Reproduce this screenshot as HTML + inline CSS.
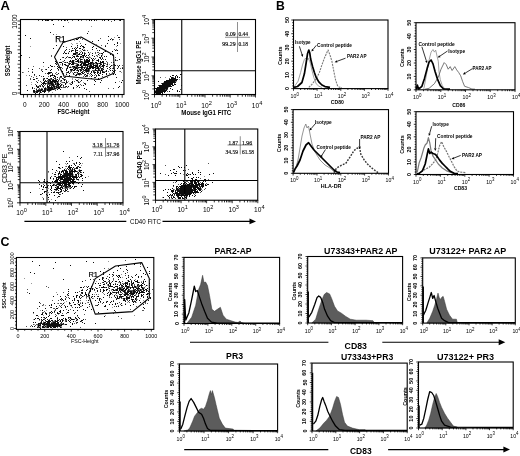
<!DOCTYPE html>
<html><head><meta charset="utf-8"><style>
html,body{margin:0;padding:0;background:#fff;width:520px;height:456px;overflow:hidden}
svg{display:block;will-change:transform}
</style></head><body>
<svg width="520" height="456" viewBox="0 0 520 456">
<defs><filter id="bl" x="-5%" y="-5%" width="110%" height="110%"><feGaussianBlur stdDeviation="0.3"/></filter></defs>
<rect width="520" height="456" fill="#fff"/>
<text x="0.6" y="9.6" font-size="13" font-family="Liberation Sans, sans-serif" font-weight="bold" text-anchor="start" fill="#000">A</text>
<text x="276" y="10" font-size="12.2" font-family="Liberation Sans, sans-serif" font-weight="bold" text-anchor="start" fill="#000">B</text>
<text x="0.6" y="246.3" font-size="12.4" font-family="Liberation Sans, sans-serif" font-weight="bold" text-anchor="start" fill="#000">C</text>
<path filter="url(#bl)" transform="translate(0 0.5)" d="M32 69h1M31 82h1M85 66h1M55 73h1M94 67h1M77 46h1M77 50h1M75 67h1M58 86h1M41 89h1M60 87h1M95 68h1M49 84h1M101 63h1M82 56h1M102 65h1M102 55h1M46 81h1M99 68h1M96 44h1M116 60h1M86 61h1M78 79h1M55 87h1M87 68h1M57 87h1M49 80h1M80 54h1M71 43h1M39 86h1M69 83h1M49 82h1M66 62h1M48 87h1M87 65h1M95 64h1M83 67h1M49 85h1M72 72h1M80 60h1M42 90h1M39 91h1M43 79h1M79 41h1M77 63h1M90 62h1M100 53h1M84 67h1M86 64h1M38 89h1M72 79h1M43 91h1M88 78h1M60 77h1M44 91h1M38 91h1M100 66h1M58 82h1M61 81h1M95 72h1M79 65h1M89 63h1M45 88h1M61 82h1M44 79h1M69 57h1M73 67h1M52 88h1M86 20h1M101 70h1M85 67h1M78 67h1M53 86h1M87 74h1M36 88h1M52 87h1M52 85h1M74 74h1M47 81h1M83 82h1M72 44h1M94 65h1M100 68h1M73 64h1M72 50h1M90 57h1M93 65h1M48 92h1M80 70h1M91 63h1M78 68h1M36 91h1M89 68h1M53 87h1M90 75h1M78 82h1M81 57h1M42 83h1M93 62h1M79 62h1M68 22h1M112 72h1M102 58h1M37 92h1M106 64h1M55 88h1M93 67h1M89 71h1M68 81h1M53 85h1M86 70h1M81 59h1M80 58h1M56 87h1M65 20h1M56 86h1M99 55h1M56 88h1M102 72h1M105 59h1M113 65h1M85 61h1M79 75h1M89 64h1M60 64h1M23 72h1M56 34h1M93 71h1M92 60h1M82 65h1M31 84h1M89 76h1M92 67h1M57 86h1M56 63h1M72 67h1M76 53h1M43 66h1M60 81h1M67 67h1M85 62h1M35 92h1M86 72h1M77 54h1M76 54h1M42 88h1M88 72h1M53 82h1M100 70h1M50 88h1M63 85h1M72 48h1M60 80h1M79 61h1M120 43h1M80 73h1M34 92h1M78 73h1M40 91h1M76 87h1M48 88h1M70 71h1M52 92h1M57 88h1M46 89h1M89 53h1M97 52h1M109 64h1M48 84h1M96 64h1M34 91h1M90 67h1M103 68h1M66 73h1M86 62h1M83 58h1M119 81h1M74 40h1M71 71h1M42 69h1M39 92h1M82 63h1M84 49h1M46 90h1M76 72h1M56 85h1M41 82h1M98 71h1M62 87h1M78 59h1M74 60h1M59 77h1M63 76h1M89 56h1M47 86h1M102 74h1M53 80h1M70 70h1M79 58h1M74 68h1M69 62h1M83 48h1M86 71h1M95 63h1M56 79h1M97 55h1M80 50h1M79 51h1M62 84h1M107 65h1M51 87h1M89 65h1M75 66h1M72 78h1M72 70h1M30 46h1M116 50h1M88 65h1M68 64h1M47 89h1M110 74h1M95 65h1M51 90h1M26 75h1M87 59h1M49 86h1M104 71h1M69 63h1M50 73h1M71 61h1M42 20h1M52 86h1M74 62h1M119 71h1M103 66h1M55 89h1M112 40h1M70 83h1M54 85h1M62 78h1M96 62h1M77 43h1M104 51h1M71 58h1M103 62h1M97 72h1M66 83h1M88 57h1M72 64h1M55 86h1M96 67h1M54 75h1M76 52h1M30 78h1M52 82h1M99 65h1M112 65h1M62 61h1M71 70h1M32 71h1M77 81h1M71 67h1M91 26h1M89 74h1M76 64h1M96 66h1M75 65h1M85 69h1M121 72h1M79 73h1M76 43h1M56 82h1M59 86h1M70 66h1M82 67h1M73 60h1M98 66h1M82 53h1M54 84h1M113 66h1M57 79h1M90 52h1M85 50h1M57 77h1M68 52h1M91 65h1M54 81h1M47 85h1M116 46h1M114 37h1M58 20h1M37 78h1M77 69h1M102 66h1" stroke="#999" stroke-width="1.0" fill="none"/>
<path filter="url(#bl)" transform="translate(0 0.5)" d="M57 74h1M93 66h1M97 70h1M79 69h1M52 89h1M90 68h1M45 84h1M112 72h1M46 89h1M49 88h1M84 75h1M82 69h1M85 53h1M112 68h1M78 70h1M45 89h1M41 70h1M87 70h1M96 76h1M41 76h1M74 81h1M119 39h1M51 79h1M61 67h1M101 66h1M63 82h1M53 88h1M98 74h1M55 88h1M28 71h1M60 81h1M39 91h1M47 80h1M99 69h1M105 45h1M65 87h1M75 61h1M95 74h1M80 81h1M51 55h1M78 62h1M58 85h1M33 92h1M96 65h1M96 63h1M38 20h1M55 83h1M55 82h1M96 20h1M89 91h1M47 88h1M63 87h1M84 65h1M68 57h1M59 86h1M77 69h1M34 88h1M52 87h1M87 73h1M79 67h1M56 87h1M102 54h1M40 90h1M56 84h1M67 65h1M117 60h1M115 57h1M66 80h1M60 77h1M88 70h1M45 87h1M83 62h1M77 60h1M50 82h1M77 65h1M42 71h1M103 64h1M70 70h1M48 76h1M76 70h1M71 64h1M80 74h1M76 50h1M63 74h1M50 79h1M40 89h1M37 78h1M48 87h1M47 83h1M91 67h1M102 69h1M44 89h1M32 88h1M75 51h1M80 60h1M58 87h1M50 84h1M49 84h1M82 57h1M107 66h1M114 49h1M68 86h1M51 56h1M109 69h1M48 91h1M81 68h1M73 67h1M72 20h1M91 66h1M78 65h1M69 63h1M80 52h1M42 90h1M44 85h1M68 66h1M86 67h1M38 80h1M88 71h1M81 59h1M101 45h1M86 64h1M55 79h1M45 88h1M58 70h1M85 63h1M64 80h1M53 77h1M71 58h1M48 88h1M54 89h1M35 84h1M96 62h1M64 51h1M96 70h1M108 71h1M84 67h1M75 79h1M112 55h1M88 58h1M117 35h1M85 83h1M97 52h1M66 82h1M86 76h1M81 66h1M57 83h1M51 85h1M85 65h1M41 88h1M74 56h1M39 68h1M62 68h1M48 74h1M22 72h1M62 82h1M82 71h1M114 70h1M93 63h1M102 57h1M81 72h1M47 89h1M105 71h1M82 63h1M48 79h1M49 86h1M48 81h1M94 75h1M84 52h1M92 63h1M103 61h1M104 63h1M56 85h1M80 84h1M80 71h1M89 57h1M81 51h1M57 85h1M59 79h1M36 76h1M64 87h1M49 82h1M85 67h1M87 69h1M74 63h1M98 63h1M89 61h1M81 62h1M95 52h1M85 66h1M26 85h1M46 88h1M95 66h1M88 31h1M102 20h1M98 52h1M53 87h1M93 72h1M31 76h1M92 61h1M76 61h1M65 76h1M90 64h1M51 84h1M93 60h1M80 64h1M48 89h1M46 83h1M77 53h1M79 82h1M63 79h1M58 20h1M107 62h1M84 74h1M63 86h1M50 75h1M73 50h1M105 63h1M100 38h1M52 84h1M67 56h1M71 84h1M51 75h1M85 71h1M95 69h1M88 66h1M85 60h1M29 75h1M99 73h1M92 64h1M56 80h1M103 59h1M97 72h1M52 73h1M103 72h1M56 81h1M56 74h1M42 86h1M74 54h1M53 84h1M76 85h1M77 73h1M82 68h1M86 62h1M95 53h1M51 89h1M37 86h1M62 64h1M63 73h1M71 50h1M97 56h1M95 58h1M45 69h1M111 38h1M54 87h1M117 65h1M65 20h1M100 65h1M30 78h1M74 69h1M116 49h1M65 79h1M88 64h1M111 62h1M49 81h1M60 86h1M57 86h1M51 87h1M99 53h1M114 64h1M86 57h1M103 71h1M55 77h1M87 76h1M48 84h1M75 54h1M72 81h1M65 77h1M76 55h1M64 62h1M76 63h1M62 65h1M59 67h1M53 75h1M71 61h1M96 60h1M72 55h1M41 89h1M64 60h1M58 80h1M93 70h1M77 58h1M82 59h1M52 80h1M84 72h1M102 76h1M66 68h1M82 39h1M54 86h1M44 88h1M108 75h1M56 72h1M84 63h1M40 81h1M108 88h1M54 85h1M61 77h1M75 58h1M81 85h1M106 61h1M52 79h1M54 66h1M120 68h1M113 39h1M94 63h1M59 78h1M81 20h1M83 69h1M48 90h1M81 69h1M89 69h1M52 88h1M77 45h1M74 67h1M73 39h1M62 57h1M88 60h1M43 90h1M38 89h1M94 70h1M45 80h1M100 70h1M103 66h1M65 50h1M113 64h1M42 91h1M87 68h1M41 92h1M83 71h1M113 67h1M54 78h1M103 67h1M50 85h1M76 68h1M59 84h1M65 58h1M71 62h1M111 65h1M96 66h1M83 67h1M107 77h1M60 83h1M70 72h1M43 87h1M49 79h1M79 54h1M95 65h1M114 65h1M73 73h1M47 82h1M81 54h1M30 79h1M80 43h1M70 84h1M95 68h1M87 50h1M54 88h1M68 63h1M39 88h1M92 70h1M118 67h1M77 52h1M87 61h1M117 43h1M113 88h1M55 73h1M39 89h1M45 73h1M49 91h1M82 61h1M90 65h1M100 64h1M49 83h1M45 81h1M81 63h1M91 64h1M94 59h1M87 65h1M36 91h1M90 62h1M40 91h1M97 50h1M88 73h1M63 78h1M50 81h1M42 89h1M46 81h1M122 67h1M53 34h1M61 85h1M58 81h1M37 91h1M33 66h1M122 65h1M96 55h1M67 87h1M86 72h1M33 77h1M101 62h1M56 83h1M47 84h1M66 72h1M99 68h1M91 62h1M80 38h1M75 63h1M53 80h1M41 69h1M81 65h1M107 63h1M73 74h1M75 47h1M77 67h1M115 70h1M75 72h1M83 76h1M68 53h1M55 86h1M50 87h1M80 62h1M71 71h1M50 78h1M97 65h1M109 73h1M87 60h1M66 47h1M43 78h1M50 89h1M63 61h1M48 80h1M39 85h1M65 86h1M44 82h1M97 63h1M102 71h1M89 63h1M57 84h1M89 65h1M120 71h1M81 74h1M78 81h1M36 90h1M55 84h1M35 91h1M69 49h1M57 79h1M75 52h1M77 56h1M77 74h1M28 68h1M75 67h1M53 83h1M55 90h1M119 20h1M83 70h1M97 66h1M41 82h1M68 72h1M56 88h1M80 61h1M88 63h1M94 71h1M34 75h1M40 85h1M67 82h1M51 20h1M52 81h1M36 81h1M71 82h1M76 53h1M29 57h1M46 78h1M65 65h1M86 69h1M77 80h1M63 85h1M46 20h1M89 70h1M58 86h1M115 59h1M76 66h1M111 21h1" stroke="#555" stroke-width="1.0" fill="none"/>
<path filter="url(#bl)" transform="translate(0 0.5)" d="M51 89h1M93 67h1M72 63h1M80 59h1M48 20h1M51 66h1M109 67h1M106 66h1M113 68h1M69 67h1M81 59h1M66 82h1M74 53h1M54 86h1M56 87h1M71 69h1M51 78h1M71 64h1M81 56h1M64 20h1M43 80h1M41 89h1M63 85h1M80 62h1M63 40h1M99 65h1M92 68h1M99 57h1M50 72h1M80 70h1M90 65h1M84 70h1M61 20h1M50 32h1M93 68h1M98 78h1M66 53h1M86 61h1M92 67h1M77 66h1M88 70h1M91 62h1M40 91h1M102 58h1M51 87h1M52 85h1M70 63h1M91 65h1M37 87h1M119 37h1M36 92h1M86 62h1M86 71h1M121 82h1M78 67h1M39 75h1M118 37h1M98 54h1M57 83h1M62 78h1M110 66h1M97 71h1M87 75h1M93 63h1M83 57h1M89 66h1M101 56h1M95 77h1M48 81h1M44 83h1M79 53h1M88 60h1M86 70h1M76 67h1M78 20h1M78 61h1M87 59h1M46 69h1M84 83h1M52 88h1M44 90h1M77 86h1M90 66h1M34 92h1M85 64h1M94 80h1M55 78h1M47 78h1M119 65h1M92 59h1M66 69h1M65 64h1M87 65h1M51 72h1M95 69h1M51 82h1M73 62h1M72 64h1M77 65h1M56 81h1M36 78h1M52 75h1M75 75h1M49 79h1M101 59h1M57 87h1M66 49h1M54 76h1M53 77h1M82 49h1M90 64h1M103 63h1M45 89h1M57 85h1M83 56h1M51 86h1M79 74h1M92 47h1M96 75h1M88 71h1M69 63h1M48 67h1M50 70h1M90 67h1M71 51h1M41 90h1M96 68h1M33 90h1M77 70h1M92 53h1M104 72h1M78 56h1M39 90h1M64 52h1M89 68h1M47 90h1M103 67h1M88 64h1M65 83h1M48 83h1M32 88h1M48 82h1M88 55h1M98 40h1M58 87h1M83 46h1M89 20h1M42 89h1M82 73h1M56 86h1M85 65h1M52 82h1M95 65h1M51 88h1M44 89h1M92 49h1M67 62h1M82 67h1M105 51h1M61 76h1M48 87h1M37 92h1M89 63h1M86 59h1M86 69h1M54 88h1M38 91h1M21 55h1M49 88h1M59 88h1M37 91h1M91 20h1M43 84h1M44 78h1M104 20h1M87 71h1M122 68h1M84 64h1M96 65h1M47 85h1M64 77h1M90 63h1M49 87h1M34 91h1M86 65h1M67 72h1M77 47h1M79 58h1M37 82h1M102 65h1M97 66h1M55 82h1M115 60h1M82 66h1M96 70h1M33 91h1M50 88h1M67 66h1M87 61h1M47 86h1M88 58h1M57 89h1M76 48h1M102 72h1M75 51h1M83 55h1M52 80h1M99 70h1M60 67h1M81 67h1M94 84h1M32 72h1M49 83h1M85 69h1M25 35h1M63 46h1M55 63h1M36 85h1M82 52h1M66 57h1M88 52h1M45 80h1M73 87h1M100 57h1M86 68h1M79 67h1M34 79h1M83 63h1M103 62h1M54 81h1M44 88h1M78 82h1M46 81h1M78 54h1M75 49h1M93 66h1M62 64h1M58 83h1M64 80h1M85 74h1M56 64h1M43 62h1M116 77h1M57 81h1M67 68h1M45 20h1M57 77h1M61 80h1M101 64h1M49 89h1M82 55h1M55 61h1M87 66h1M68 86h1M42 85h1M51 75h1M67 20h1M100 58h1M51 81h1M50 83h1M50 81h1M118 87h1M44 81h1M94 20h1M84 53h1M52 66h1M51 84h1M71 46h1M101 55h1M103 52h1M43 79h1M72 62h1M77 68h1M98 68h1M103 65h1M73 63h1M65 62h1M43 91h1M89 54h1M48 89h1M58 85h1M84 88h1M70 67h1M98 69h1M99 50h1M112 51h1M58 73h1M70 40h1M43 82h1M117 43h1M43 86h1M115 65h1M76 61h1M79 73h1M64 82h1M69 73h1M115 82h1M106 56h1M55 81h1M49 85h1M73 60h1M98 74h1M50 75h1M117 53h1M102 53h1M81 70h1M80 69h1M52 83h1M82 72h1M68 71h1M48 88h1M91 63h1M60 59h1M76 39h1M55 83h1M84 67h1M87 62h1M69 61h1M47 89h1M77 45h1M72 57h1M117 68h1M71 70h1M78 85h1M83 65h1M70 69h1M102 68h1M68 53h1M81 63h1M74 67h1M32 69h1M84 50h1M91 71h1M96 63h1M78 71h1M102 70h1M43 83h1M53 86h1M90 73h1M76 65h1M85 62h1M92 75h1M74 72h1M86 60h1M80 46h1M84 65h1M70 61h1M88 69h1M76 68h1M101 53h1M96 66h1M42 20h1M90 68h1M113 74h1M94 56h1M49 72h1M99 63h1M74 66h1M80 64h1M58 84h1M73 68h1M77 60h1M39 93h1M87 57h1M82 53h1M97 68h1M57 84h1M79 87h1M108 36h1M94 77h1M89 67h1M77 72h1M80 61h1M50 87h1M44 91h1M53 81h1M87 60h1M85 70h1M89 60h1M76 52h1M55 88h1M88 63h1M102 71h1M57 79h1M50 65h1M58 86h1M69 64h1M91 76h1M75 54h1M92 41h1M84 55h1M50 76h1M53 85h1M74 70h1M48 73h1M60 86h1M36 89h1M106 70h1M101 70h1M96 62h1M43 76h1M30 38h1M44 92h1M108 40h1M119 86h1M75 68h1M110 68h1M49 73h1M97 67h1M78 59h1M93 64h1M95 62h1M65 53h1M90 62h1M102 74h1M74 57h1M75 67h1M66 70h1M85 63h1M95 67h1M110 39h1M60 76h1M55 76h1M47 87h1M76 56h1M35 93h1M98 59h1M61 87h1M77 56h1M80 65h1M53 84h1M84 72h1M93 71h1M92 60h1M77 52h1M52 87h1M59 62h1M34 74h1M94 73h1M45 83h1M84 59h1M78 65h1M78 70h1M45 88h1M54 80h1M85 76h1M68 72h1M56 62h1M78 64h1M114 20h1M117 50h1M49 90h1M52 81h1M50 90h1M53 24h1M54 75h1M50 89h1M99 75h1M95 70h1M87 33h1M73 54h1M103 61h1M100 64h1M97 65h1M86 89h1M73 61h1M38 87h1M78 60h1M74 69h1M32 87h1M77 80h1M94 65h1M75 59h1M72 66h1M42 91h1M97 63h1M85 61h1M86 55h1M88 62h1M88 61h1M60 89h1M53 79h1M58 80h1M59 84h1M103 69h1M74 54h1M73 56h1M106 74h1M34 90h1M91 66h1M108 20h1M72 60h1M101 69h1M51 83h1M72 50h1M70 60h1M83 47h1M91 58h1M106 73h1M85 44h1M87 68h1M110 70h1M47 20h1M69 75h1M73 88h1M36 91h1M84 54h1M53 89h1M100 61h1M45 90h1M107 43h1M69 57h1M81 80h1M112 39h1M100 73h1M74 56h1M82 62h1M69 51h1M62 63h1M76 74h1M40 92h1M78 73h1M94 72h1M55 84h1M48 79h1M108 75h1M97 73h1M52 84h1M44 82h1M66 86h1M37 90h1M92 62h1M64 64h1M60 85h1M58 88h1M64 79h1M100 71h1M115 74h1M98 72h1M62 71h1M36 86h1M87 73h1M42 71h1M56 80h1M101 62h1M100 72h1M80 73h1M93 58h1M98 75h1M63 53h1M97 72h1M81 54h1M114 44h1M99 66h1M84 61h1M41 84h1M87 64h1M68 65h1M57 68h1M104 56h1M105 46h1M76 75h1M82 46h1M84 60h1M60 62h1M81 61h1M95 81h1M58 67h1M55 80h1M100 62h1M72 83h1M84 62h1M92 55h1M48 86h1M105 59h1M49 80h1M104 65h1M107 64h1M38 90h1M71 84h1M63 26h1M66 65h1M87 67h1M57 82h1M72 81h1M59 87h1M61 84h1M65 50h1M100 82h1M77 39h1M77 64h1M73 53h1M112 70h1M101 80h1M77 50h1M48 72h1M107 68h1M83 73h1M50 80h1M67 67h1M33 79h1M73 64h1M113 71h1M117 42h1M110 54h1M72 61h1M102 62h1M96 48h1M93 65h1M91 74h1M106 71h1M76 80h1M122 80h1M54 82h1M52 20h1M91 78h1M98 60h1M83 64h1M84 47h1M102 66h1M80 57h1M81 66h1M111 65h1M74 48h1M81 68h1M80 48h1M98 67h1M87 80h1M80 56h1M83 85h1M78 38h1M88 68h1M86 64h1M70 57h1M89 59h1M100 67h1M57 51h1M93 46h1M95 72h1M91 72h1M63 57h1M65 84h1M85 84h1M42 83h1M77 55h1M53 80h1M54 87h1M79 54h1M80 67h1M56 45h1M103 66h1M73 70h1M89 61h1M118 66h1M52 74h1M66 81h1M73 73h1M95 66h1M83 50h1M45 91h1M48 90h1M40 90h1M119 59h1M77 61h1M72 48h1M52 89h1M113 62h1M40 86h1M97 60h1M98 70h1M101 68h1M92 66h1M86 75h1M81 72h1M117 45h1M84 63h1M72 69h1M81 64h1M81 45h1M78 74h1M97 64h1M47 73h1M53 48h1M38 86h1M103 64h1M58 69h1M72 82h1M73 66h1M27 90h1M98 61h1M76 59h1M75 53h1M50 82h1M56 37h1M84 68h1M83 69h1M120 20h1M75 69h1M79 48h1M61 62h1M66 74h1M94 67h1M85 56h1M75 50h1M114 71h1M115 50h1M100 63h1M103 72h1M102 61h1M78 62h1M57 66h1M64 60h1M91 67h1M51 69h1M87 70h1" stroke="#111" stroke-width="1.0" fill="none"/>
<rect x="20.5" y="19.5" width="103.5" height="75.0" fill="none" stroke="#000" stroke-width="1.1"/>
<path d="M20.5 93.0L17.5 93.0M20.5 89.4L18.1 89.4M20.5 85.8L18.1 85.8M20.5 82.2L18.1 82.2M20.5 78.6L17.5 78.6M20.5 75.0L18.1 75.0M20.5 71.4L18.1 71.4M20.5 67.8L18.1 67.8M20.5 64.2L17.5 64.2M20.5 60.6L18.1 60.6M20.5 57.0L18.1 57.0M20.5 53.4L18.1 53.4M20.5 49.8L17.5 49.8M20.5 46.2L18.1 46.2M20.5 42.6L18.1 42.6M20.5 39.0L18.1 39.0M20.5 35.4L17.5 35.4M20.5 31.8L18.1 31.8M20.5 28.2L18.1 28.2M20.5 24.6L18.1 24.6M20.5 21.0L17.5 21.0" stroke="#000" stroke-width="0.8" fill="none"/>
<path d="M23.5 94.5L23.5 97.7M27.4 94.5L27.4 97.3M31.4 94.5L31.4 97.3M35.3 94.5L35.3 97.3M39.3 94.5L39.3 97.3M43.2 94.5L43.2 97.7M47.2 94.5L47.2 97.3M51.1 94.5L51.1 97.3M55.1 94.5L55.1 97.3M59.0 94.5L59.0 97.3M63.0 94.5L63.0 97.7M66.9 94.5L66.9 97.3M70.9 94.5L70.9 97.3M74.8 94.5L74.8 97.3M78.8 94.5L78.8 97.3M82.7 94.5L82.7 97.7M86.7 94.5L86.7 97.3M90.6 94.5L90.6 97.3M94.6 94.5L94.6 97.3M98.5 94.5L98.5 97.3M102.5 94.5L102.5 97.7M106.4 94.5L106.4 97.3M110.4 94.5L110.4 97.3M114.3 94.5L114.3 97.3M118.3 94.5L118.3 97.3M122.2 94.5L122.2 97.7" stroke="#000" stroke-width="0.8" fill="none"/>
<path d="M54.5 57.0 L63.0 42.5 L81.0 37.0 L113.5 55.0 L114.5 73.0 L99.0 79.5 L87.0 78.5 L64.0 76.0 Z" fill="none" stroke="#000" stroke-width="1.1" stroke-linejoin="round"/>
<text x="55.2" y="42.4" font-size="8.2" font-family="Liberation Sans, sans-serif" text-anchor="start" fill="#000" stroke="#000" stroke-width="0.25">R1</text>
<text x="24.7" y="107.2" font-size="6.5" font-family="Liberation Sans, sans-serif" text-anchor="middle" fill="#000">0</text>
<text x="44.2" y="107.2" font-size="6.5" font-family="Liberation Sans, sans-serif" text-anchor="middle" fill="#000">200</text>
<text x="63.7" y="107.2" font-size="6.5" font-family="Liberation Sans, sans-serif" text-anchor="middle" fill="#000">400</text>
<text x="83.2" y="107.2" font-size="6.5" font-family="Liberation Sans, sans-serif" text-anchor="middle" fill="#000">600</text>
<text x="102.7" y="107.2" font-size="6.5" font-family="Liberation Sans, sans-serif" text-anchor="middle" fill="#000">800</text>
<text x="122.2" y="107.2" font-size="6.5" font-family="Liberation Sans, sans-serif" text-anchor="middle" fill="#000">1000</text>
<text x="73.5" y="113.6" font-size="6.5" font-family="Liberation Sans, sans-serif" font-weight="bold" text-anchor="middle" fill="#000" textLength="32" lengthAdjust="spacingAndGlyphs">FSC-Height</text>
<text x="17.2" y="93.5" font-size="6.5" font-family="Liberation Sans, sans-serif" text-anchor="middle" fill="#000" transform="rotate(-90 17.2 93.5)">0</text>
<text x="17.2" y="21.5" font-size="6.5" font-family="Liberation Sans, sans-serif" text-anchor="middle" fill="#000" transform="rotate(-90 17.2 21.5)">1000</text>
<text x="9.8" y="61" font-size="6.5" font-family="Liberation Sans, sans-serif" font-weight="bold" text-anchor="middle" fill="#000" transform="rotate(-90 9.8 61)" textLength="30.7" lengthAdjust="spacingAndGlyphs">SSC-Height</text>
<path filter="url(#bl)" transform="translate(0 0.5)" d="M158 92h1M168 84h1M160 88h1M159 89h1M155 93h1M172 81h1M157 89h1M165 85h1M158 90h1M165 91h1M166 89h1M160 91h1M166 83h1M165 83h1M171 81h1M176 79h1M163 88h1M157 91h1M159 88h1M171 82h1M161 89h1M171 79h1M163 86h1M171 84h1M162 86h1M167 86h1M161 90h1M163 82h1M169 81h1M164 84h1M163 91h1M168 87h1M161 86h1M172 83h1M159 92h1M169 83h1M164 85h1M159 90h1M161 87h1M161 91h1M163 90h1M166 86h1M158 91h1M165 77h1M168 85h1M167 84h1M157 90h1M156 90h1M179 79h1M157 92h1M155 90h1M166 87h1M164 86h1M162 88h1M163 87h1M171 83h1M169 85h1M164 88h1M169 80h1M166 85h1M171 78h1M165 84h1M167 80h1M168 82h1M168 83h1M164 87h1M162 90h1M165 87h1M176 81h1M158 89h1M164 92h1M169 82h1" stroke="#999" stroke-width="1.0" fill="none"/>
<path filter="url(#bl)" transform="translate(0 0.5)" d="M164 87h1M163 85h1M171 80h1M166 85h1M159 90h1M167 89h1M170 83h1M160 87h1M168 83h1M162 85h1M173 80h1M163 88h1M162 88h1M156 92h1M167 83h1M160 90h1M165 87h1M181 85h1M167 91h1M166 83h1M162 87h1M164 85h1M173 77h1M168 81h1M174 83h1M165 89h1M164 86h1M165 86h1M171 79h1M163 87h1M168 80h1M180 89h1M165 85h1M169 85h1M161 87h1M164 84h1M168 84h1M162 89h1M162 92h1M167 84h1M169 83h1M167 85h1M160 77h1M162 90h1M172 79h1M169 84h1M175 79h1M161 89h1M158 90h1M167 88h1M163 90h1M157 91h1M164 88h1M166 87h1M164 89h1M161 83h1M162 86h1M167 81h1M162 84h1M166 86h1M170 81h1M175 81h1M169 78h1M169 81h1M174 80h1M161 91h1M171 77h1M165 82h1M160 86h1M168 85h1M166 89h1M173 82h1M156 90h1M158 91h1M156 91h1M160 88h1M170 86h1M165 83h1M167 82h1M181 74h1M174 81h1M161 85h1M170 79h1M166 82h1M169 80h1M167 87h1M165 84h1M172 78h1M160 92h1M169 86h1M161 86h1M163 91h1M162 91h1M158 85h1M170 82h1M156 89h1M171 81h1M169 82h1M158 89h1M171 82h1M160 89h1M172 82h1M159 91h1M175 78h1" stroke="#555" stroke-width="1.0" fill="none"/>
<path filter="url(#bl)" transform="translate(0 0.5)" d="M158 89h1M167 81h1M162 87h1M165 86h1M169 81h1M169 84h1M162 85h1M157 91h1M167 82h1M163 88h1M157 93h1M165 81h1M166 88h1M164 81h1M165 87h1M159 89h1M172 83h1M167 84h1M168 83h1M160 88h1M164 85h1M162 86h1M165 85h1M162 84h1M166 84h1M162 88h1M161 86h1M171 82h1M168 84h1M165 84h1M168 82h1M161 92h1M166 87h1M162 83h1M163 90h1M157 89h1M172 82h1M156 92h1M165 90h1M175 77h1M156 93h1M162 89h1M166 90h1M173 79h1M163 86h1M163 85h1M170 80h1M169 83h1M156 91h1M169 86h1M158 90h1M160 86h1M173 81h1M158 87h1M165 88h1M163 83h1M177 90h1M160 91h1M170 82h1M167 83h1M172 80h1M161 88h1M173 78h1M165 91h1M170 86h1M158 91h1M171 81h1M164 84h1M174 84h1M163 87h1M168 85h1M167 87h1M161 87h1M164 90h1M172 77h1M159 90h1M167 86h1M170 84h1M171 86h1M164 88h1M160 89h1M160 90h1M166 86h1M161 89h1M159 93h1M165 83h1M169 91h1M165 82h1M164 83h1M170 79h1M172 79h1M171 80h1M170 81h1M164 87h1M173 82h1M168 81h1M155 91h1M156 88h1M166 89h1M164 86h1M175 80h1M159 92h1M167 85h1M177 79h1M172 78h1M157 90h1M177 76h1M171 83h1M160 87h1M180 74h1M158 92h1M170 83h1M169 79h1M173 80h1M171 84h1M172 81h1M175 82h1M167 80h1M170 88h1M172 85h1M161 90h1M159 87h1M168 80h1M164 89h1M167 88h1M158 81h1M158 88h1M166 85h1M170 85h1M156 90h1M179 91h1M157 87h1M175 84h1M175 76h1M166 83h1M166 81h1M155 88h1M175 78h1M168 86h1M176 80h1M173 85h1M163 89h1M163 84h1M177 77h1M162 91h1M166 80h1M172 75h1M162 90h1M160 93h1M169 80h1M161 85h1M175 79h1M160 92h1M169 82h1M169 85h1M176 79h1M173 75h1M174 82h1M174 79h1M174 81h1M159 88h1M171 79h1M164 82h1M155 92h1M176 75h1M174 78h1M171 77h1M162 93h1M172 84h1M159 91h1M164 91h1M177 91h1M156 89h1M166 82h1M158 93h1M171 78h1M159 86h1M179 77h1M174 80h1M159 85h1M157 88h1M160 85h1M164 92h1M157 92h1M170 76h1M161 91h1M163 91h1M162 92h1M172 89h1" stroke="#111" stroke-width="1.0" fill="none"/>
<rect x="154.5" y="19.5" width="101.0" height="75.0" fill="none" stroke="#000" stroke-width="1.1"/>
<line x1="181.75" y1="19.50" x2="181.75" y2="94.50" stroke="#000" stroke-width="1.1"/>
<line x1="154.50" y1="70.75" x2="255.50" y2="70.75" stroke="#000" stroke-width="1.1"/>
<path d="M154.5 94.5L154.5 97.5M162.1 94.5L162.1 96.7M166.5 94.5L166.5 96.7M169.7 94.5L169.7 96.7M172.1 94.5L172.1 96.7M174.1 94.5L174.1 96.7M175.8 94.5L175.8 96.7M177.3 94.5L177.3 96.7M178.6 94.5L178.6 96.7M179.8 94.5L179.8 97.5M187.4 94.5L187.4 96.7M191.8 94.5L191.8 96.7M195.0 94.5L195.0 96.7M197.4 94.5L197.4 96.7M199.4 94.5L199.4 96.7M201.1 94.5L201.1 96.7M202.6 94.5L202.6 96.7M203.8 94.5L203.8 96.7M205.0 94.5L205.0 97.5M212.6 94.5L212.6 96.7M217.0 94.5L217.0 96.7M220.2 94.5L220.2 96.7M222.6 94.5L222.6 96.7M224.6 94.5L224.6 96.7M226.3 94.5L226.3 96.7M227.8 94.5L227.8 96.7M229.1 94.5L229.1 96.7M230.2 94.5L230.2 97.5M237.9 94.5L237.9 96.7M242.3 94.5L242.3 96.7M245.5 94.5L245.5 96.7M247.9 94.5L247.9 96.7M249.9 94.5L249.9 96.7M251.6 94.5L251.6 96.7M253.1 94.5L253.1 96.7M254.3 94.5L254.3 96.7M255.5 94.5L255.5 97.5" stroke="#000" stroke-width="0.8" fill="none"/>
<path d="M154.5 94.5L151.5 94.5M154.5 88.9L152.3 88.9M154.5 85.6L152.3 85.6M154.5 83.2L152.3 83.2M154.5 81.4L152.3 81.4M154.5 79.9L152.3 79.9M154.5 78.7L152.3 78.7M154.5 77.6L152.3 77.6M154.5 76.6L152.3 76.6M154.5 75.8L151.5 75.8M154.5 70.1L152.3 70.1M154.5 66.8L152.3 66.8M154.5 64.5L152.3 64.5M154.5 62.6L152.3 62.6M154.5 61.2L152.3 61.2M154.5 59.9L152.3 59.9M154.5 58.8L152.3 58.8M154.5 57.9L152.3 57.9M154.5 57.0L151.5 57.0M154.5 51.4L152.3 51.4M154.5 48.1L152.3 48.1M154.5 45.7L152.3 45.7M154.5 43.9L152.3 43.9M154.5 42.4L152.3 42.4M154.5 41.2L152.3 41.2M154.5 40.1L152.3 40.1M154.5 39.1L152.3 39.1M154.5 38.2L151.5 38.2M154.5 32.6L152.3 32.6M154.5 29.3L152.3 29.3M154.5 27.0L152.3 27.0M154.5 25.1L152.3 25.1M154.5 23.7L152.3 23.7M154.5 22.4L152.3 22.4M154.5 21.3L152.3 21.3M154.5 20.4L152.3 20.4M154.5 19.5L151.5 19.5" stroke="#000" stroke-width="0.8" fill="none"/>
<text x="150.83" y="108.00" font-size="6.6" font-family="Liberation Sans, sans-serif" fill="#000">10<tspan dy="-2.77" font-size="5.61">0</tspan></text>
<g transform="translate(149.00 95.10) rotate(-90)"><text x="-5.23" y="0" font-size="6.6" font-family="Liberation Sans, sans-serif" fill="#000">10<tspan dy="-2.77" font-size="5.61">0</tspan></text></g>
<text x="176.08" y="108.00" font-size="6.6" font-family="Liberation Sans, sans-serif" fill="#000">10<tspan dy="-2.77" font-size="5.61">1</tspan></text>
<g transform="translate(149.00 76.35) rotate(-90)"><text x="-5.23" y="0" font-size="6.6" font-family="Liberation Sans, sans-serif" fill="#000">10<tspan dy="-2.77" font-size="5.61">1</tspan></text></g>
<text x="201.33" y="108.00" font-size="6.6" font-family="Liberation Sans, sans-serif" fill="#000">10<tspan dy="-2.77" font-size="5.61">2</tspan></text>
<g transform="translate(149.00 57.60) rotate(-90)"><text x="-5.23" y="0" font-size="6.6" font-family="Liberation Sans, sans-serif" fill="#000">10<tspan dy="-2.77" font-size="5.61">2</tspan></text></g>
<text x="226.58" y="108.00" font-size="6.6" font-family="Liberation Sans, sans-serif" fill="#000">10<tspan dy="-2.77" font-size="5.61">3</tspan></text>
<g transform="translate(149.00 38.85) rotate(-90)"><text x="-5.23" y="0" font-size="6.6" font-family="Liberation Sans, sans-serif" fill="#000">10<tspan dy="-2.77" font-size="5.61">3</tspan></text></g>
<text x="251.83" y="108.00" font-size="6.6" font-family="Liberation Sans, sans-serif" fill="#000">10<tspan dy="-2.77" font-size="5.61">4</tspan></text>
<g transform="translate(149.00 20.10) rotate(-90)"><text x="-5.23" y="0" font-size="6.6" font-family="Liberation Sans, sans-serif" fill="#000">10<tspan dy="-2.77" font-size="5.61">4</tspan></text></g>
<text x="206.3" y="114.9" font-size="6.5" font-family="Liberation Sans, sans-serif" font-weight="bold" text-anchor="middle" fill="#000" textLength="50" lengthAdjust="spacingAndGlyphs">Mouse IgG1 FITC</text>
<text x="141.2" y="62.6" font-size="6.3" font-family="Liberation Sans, sans-serif" font-weight="bold" text-anchor="middle" fill="#000" transform="rotate(-90 141.2 62.6)" textLength="44" lengthAdjust="spacingAndGlyphs">Mouse IgG1 PE</text>
<line x1="237.50" y1="22.00" x2="237.50" y2="52.00" stroke="#444" stroke-width="0.6"/>
<line x1="225.00" y1="37.25" x2="250.00" y2="37.25" stroke="#444" stroke-width="0.6"/>
<text x="225.6" y="35.8" font-size="6.3" font-family="Liberation Serif, serif" text-anchor="start" fill="#000" textLength="10" lengthAdjust="spacingAndGlyphs" stroke="#000" stroke-width="0.15">0.09</text>
<text x="238.4" y="35.8" font-size="6.3" font-family="Liberation Serif, serif" text-anchor="start" fill="#000" textLength="9.6" lengthAdjust="spacingAndGlyphs" stroke="#000" stroke-width="0.15">0.44</text>
<text x="222.3" y="45.6" font-size="6.3" font-family="Liberation Serif, serif" text-anchor="start" fill="#000" textLength="13.3" lengthAdjust="spacingAndGlyphs" stroke="#000" stroke-width="0.15">99.29</text>
<text x="238.4" y="45.6" font-size="6.3" font-family="Liberation Serif, serif" text-anchor="start" fill="#000" textLength="9.6" lengthAdjust="spacingAndGlyphs" stroke="#000" stroke-width="0.15">0.18</text>
<path filter="url(#bl)" transform="translate(0 0.5)" d="M46 181h1M63 177h1M75 176h1M66 176h1M79 173h1M58 179h1M66 184h1M70 182h1M72 173h1M64 187h1M43 189h1M65 176h1M63 185h1M68 176h1M65 163h1M67 177h1M73 169h1M60 178h1M71 169h1M56 181h1M63 174h1M56 161h1M62 187h1M73 174h1M69 187h1M64 181h1M58 175h1M70 175h1M39 188h1M81 165h1M67 189h1M61 186h1M62 186h1M69 177h1M67 173h1M51 199h1M56 186h1M62 181h1M70 177h1M54 185h1M73 175h1M63 188h1M70 187h1M65 191h1M60 180h1M64 178h1M70 176h1M69 171h1M48 172h1M80 172h1M57 181h1M66 164h1M68 186h1M48 192h1M61 178h1M58 185h1M59 171h1M74 177h1M73 176h1M61 176h1M71 174h1M65 178h1M65 185h1M64 188h1M73 181h1M61 189h1M54 176h1M65 166h1M62 178h1M60 177h1M53 182h1M65 168h1M77 172h1M77 171h1M66 172h1M74 178h1M78 170h1M64 177h1M78 180h1M65 174h1M55 190h1M62 184h1M88 176h1M65 177h1M65 171h1M69 185h1M76 167h1M59 184h1M56 187h1M52 185h1M71 178h1M71 171h1M82 163h1M68 183h1M60 192h1M66 179h1M57 171h1M69 176h1M57 183h1M63 179h1M58 182h1M67 181h1M69 188h1M64 176h1M64 185h1M67 176h1M60 173h1M59 173h1M42 197h1M66 185h1M71 173h1M59 178h1M69 182h1M48 188h1M69 169h1M69 168h1M75 170h1" stroke="#999" stroke-width="1.0" fill="none"/>
<path filter="url(#bl)" transform="translate(0 0.5)" d="M66 171h1M71 178h1M59 182h1M60 187h1M68 191h1M68 174h1M65 189h1M75 175h1M66 173h1M46 184h1M70 178h1M71 172h1M69 177h1M63 179h1M60 194h1M60 182h1M72 173h1M71 176h1M75 168h1M65 171h1M54 191h1M64 183h1M76 179h1M44 180h1M67 179h1M65 178h1M67 184h1M64 177h1M71 175h1M52 173h1M67 174h1M63 174h1M60 180h1M70 176h1M70 174h1M61 172h1M59 183h1M60 176h1M63 177h1M43 184h1M53 179h1M58 184h1M63 175h1M70 183h1M65 172h1M69 171h1M74 177h1M77 182h1M65 182h1M68 178h1M70 175h1M64 179h1M76 174h1M79 169h1M61 190h1M62 183h1M41 194h1M68 182h1M66 186h1M68 179h1M65 191h1M59 192h1M65 188h1M68 185h1M69 157h1M69 183h1M48 185h1M43 198h1M48 199h1M54 174h1M63 182h1M62 185h1M64 176h1M74 171h1M70 170h1M69 179h1M75 176h1M68 181h1M64 178h1M43 181h1M55 182h1M66 170h1M56 184h1M68 186h1M59 178h1M74 168h1M57 186h1M66 176h1M66 183h1M57 179h1M61 183h1M61 176h1M65 181h1M76 167h1M66 166h1M54 181h1M74 179h1M66 188h1M63 173h1M77 171h1M61 179h1M48 171h1M66 169h1M60 183h1M72 160h1M70 173h1M75 171h1M61 181h1M76 178h1M67 188h1M74 172h1M79 171h1M73 163h1M72 186h1M61 171h1M65 179h1M55 180h1M46 191h1M68 180h1M60 168h1M76 171h1M72 182h1M54 176h1M63 181h1M74 176h1M53 184h1M61 191h1M56 190h1M67 187h1M69 173h1M66 181h1M65 184h1M64 174h1M57 183h1M68 177h1M49 182h1M76 175h1M58 173h1M44 182h1M67 177h1M75 170h1M78 173h1M44 181h1M62 176h1M51 176h1M77 166h1M67 191h1M78 175h1M68 187h1M47 187h1M43 199h1M73 176h1M47 185h1M57 197h1M72 168h1M67 180h1M77 173h1M77 168h1M64 186h1M59 168h1M80 171h1M65 177h1M60 192h1M60 177h1M63 190h1M57 182h1M74 169h1M81 172h1M70 171h1M63 172h1M65 175h1M66 175h1M69 176h1M54 184h1M63 170h1M74 163h1M73 184h1M63 176h1" stroke="#555" stroke-width="1.0" fill="none"/>
<path filter="url(#bl)" transform="translate(0 0.5)" d="M58 186h1M69 175h1M58 176h1M68 177h1M70 181h1M59 180h1M61 179h1M68 182h1M69 177h1M59 182h1M61 178h1M63 186h1M69 184h1M62 187h1M69 182h1M65 185h1M67 189h1M74 186h1M53 184h1M65 176h1M56 189h1M58 183h1M58 193h1M81 174h1M66 175h1M62 167h1M66 182h1M62 176h1M67 182h1M79 182h1M68 178h1M63 180h1M50 178h1M64 182h1M56 178h1M65 180h1M70 179h1M80 176h1M63 177h1M66 187h1M68 180h1M73 177h1M53 185h1M56 182h1M68 174h1M46 194h1M54 189h1M65 183h1M61 171h1M69 183h1M74 169h1M65 187h1M70 174h1M64 178h1M70 175h1M60 183h1M69 185h1M65 182h1M61 189h1M47 195h1M66 172h1M58 196h1M74 181h1M64 173h1M60 175h1M68 175h1M46 187h1M70 176h1M41 186h1M61 177h1M67 173h1M63 181h1M74 170h1M77 168h1M60 174h1M66 178h1M62 184h1M43 186h1M73 167h1M55 187h1M64 191h1M75 174h1M65 178h1M69 179h1M56 188h1M62 177h1M69 173h1M72 174h1M69 180h1M82 180h1M75 186h1M81 170h1M64 184h1M76 171h1M50 185h1M71 187h1M56 180h1M67 176h1M65 173h1M76 177h1M77 156h1M70 185h1M51 190h1M64 174h1M64 180h1M47 187h1M57 187h1M68 179h1M61 187h1M43 187h1M60 181h1M76 167h1M75 165h1M54 195h1M62 182h1M70 167h1M76 178h1M60 185h1M67 179h1M55 180h1M71 178h1M71 176h1M77 179h1M72 168h1M56 185h1M78 183h1M79 177h1M59 188h1M58 174h1M79 167h1M63 183h1M67 163h1M72 181h1M55 185h1M39 181h1M62 178h1M58 192h1M80 167h1M60 179h1M60 178h1M67 172h1M85 177h1M63 171h1M65 184h1M75 171h1M72 186h1M62 179h1M66 186h1M60 188h1M63 175h1M66 176h1M30 192h1M73 181h1M66 173h1M71 182h1M73 182h1M74 176h1M62 193h1M48 182h1M68 185h1M82 178h1M67 171h1M83 190h1M61 185h1M71 181h1M50 189h1M48 197h1M65 186h1M52 181h1M64 181h1M57 184h1M62 188h1M58 188h1M68 184h1M60 177h1M70 172h1M69 174h1M64 177h1M66 177h1M74 177h1M60 182h1M67 181h1M56 161h1M69 168h1M57 179h1M66 179h1M77 167h1M78 179h1M59 171h1M70 180h1M70 171h1M79 170h1M70 169h1M55 172h1M65 189h1M81 186h1M47 186h1M68 181h1M58 173h1M63 151h1M70 186h1M44 179h1M58 167h1M45 187h1M55 200h1M72 173h1M59 177h1M49 194h1M68 173h1M59 183h1M66 161h1M73 188h1M61 174h1M59 194h1M58 187h1M62 171h1M73 178h1M73 179h1M66 171h1M66 180h1M64 176h1M73 176h1M69 165h1M58 184h1M44 185h1M82 175h1M71 167h1M76 175h1M59 173h1M50 177h1M69 186h1M80 163h1M54 192h1M38 180h1M57 186h1M71 171h1M69 178h1M72 176h1M46 183h1M58 177h1M62 175h1M66 174h1M67 178h1M56 192h1M74 164h1M79 162h1M71 173h1M47 181h1M67 175h1M72 172h1M66 190h1M60 187h1M44 181h1M76 176h1M72 180h1M65 170h1M61 172h1M61 191h1M50 183h1M59 184h1M59 176h1M59 164h1M69 171h1M73 180h1M52 169h1M71 174h1M75 170h1M42 189h1M73 183h1M63 172h1M42 193h1M72 177h1M47 190h1M57 188h1M72 179h1M57 177h1M60 189h1M80 158h1M68 166h1M78 176h1M58 178h1M55 181h1M54 174h1M51 188h1M57 181h1M82 184h1M70 177h1M78 172h1M66 181h1M80 172h1M51 187h1M69 176h1M60 191h1M80 174h1M81 175h1M74 179h1M63 176h1M72 169h1M65 175h1M72 175h1M76 168h1M45 182h1M71 179h1M70 178h1M57 192h1M64 185h1M63 182h1M44 192h1M66 184h1M64 179h1M55 189h1M67 177h1M57 189h1M58 182h1M76 163h1M65 171h1M66 170h1M59 167h1M75 181h1M68 169h1M65 174h1M72 171h1M58 179h1M67 180h1M70 188h1M78 174h1M57 180h1M72 182h1M71 170h1M56 177h1M67 168h1M45 191h1M52 185h1M54 181h1M69 167h1M79 164h1M67 186h1M55 174h1M65 179h1M67 174h1M68 183h1M39 184h1M75 177h1M66 183h1M64 175h1M77 177h1M61 190h1M59 185h1M61 176h1M69 172h1M81 176h1M53 192h1M83 172h1M60 184h1M74 171h1M56 181h1M59 196h1M44 191h1M73 171h1M71 165h1M60 176h1M76 162h1M68 167h1M76 174h1M65 181h1M81 157h1M75 176h1M69 170h1M64 183h1M69 166h1M79 171h1M41 185h1M76 182h1M65 172h1M70 183h1M49 201h1M58 190h1M40 194h1M63 179h1M74 187h1M61 183h1M66 185h1M51 186h1M59 172h1M64 170h1M78 166h1M70 168h1M72 183h1M56 179h1M53 178h1M56 170h1M64 169h1M61 186h1M55 176h1M49 182h1M70 173h1M51 192h1M72 170h1M62 170h1M80 170h1M77 173h1M62 181h1M74 182h1M76 186h1M69 161h1M65 190h1M67 184h1" stroke="#111" stroke-width="1.0" fill="none"/>
<rect x="20" y="131.5" width="103" height="71.25" fill="none" stroke="#000" stroke-width="1.1"/>
<line x1="47.00" y1="131.50" x2="47.00" y2="202.75" stroke="#000" stroke-width="1.1"/>
<line x1="20.00" y1="182.75" x2="123.00" y2="182.75" stroke="#000" stroke-width="1.1"/>
<path d="M20.0 202.8L20.0 205.8M27.8 202.8L27.8 204.9M32.3 202.8L32.3 204.9M35.5 202.8L35.5 204.9M38.0 202.8L38.0 204.9M40.0 202.8L40.0 204.9M41.8 202.8L41.8 204.9M43.3 202.8L43.3 204.9M44.6 202.8L44.6 204.9M45.8 202.8L45.8 205.8M53.5 202.8L53.5 204.9M58.0 202.8L58.0 204.9M61.3 202.8L61.3 204.9M63.7 202.8L63.7 204.9M65.8 202.8L65.8 204.9M67.5 202.8L67.5 204.9M69.0 202.8L69.0 204.9M70.3 202.8L70.3 204.9M71.5 202.8L71.5 205.8M79.3 202.8L79.3 204.9M83.8 202.8L83.8 204.9M87.0 202.8L87.0 204.9M89.5 202.8L89.5 204.9M91.5 202.8L91.5 204.9M93.3 202.8L93.3 204.9M94.8 202.8L94.8 204.9M96.1 202.8L96.1 204.9M97.2 202.8L97.2 205.8M105.0 202.8L105.0 204.9M109.5 202.8L109.5 204.9M112.8 202.8L112.8 204.9M115.2 202.8L115.2 204.9M117.3 202.8L117.3 204.9M119.0 202.8L119.0 204.9M120.5 202.8L120.5 204.9M121.8 202.8L121.8 204.9M123.0 202.8L123.0 205.8" stroke="#000" stroke-width="0.8" fill="none"/>
<path d="M20.0 202.8L17.0 202.8M20.0 197.4L17.8 197.4M20.0 194.3L17.8 194.3M20.0 192.0L17.8 192.0M20.0 190.3L17.8 190.3M20.0 188.9L17.8 188.9M20.0 187.7L17.8 187.7M20.0 186.7L17.8 186.7M20.0 185.8L17.8 185.8M20.0 184.9L17.0 184.9M20.0 179.6L17.8 179.6M20.0 176.4L17.8 176.4M20.0 174.2L17.8 174.2M20.0 172.5L17.8 172.5M20.0 171.1L17.8 171.1M20.0 169.9L17.8 169.9M20.0 168.9L17.8 168.9M20.0 167.9L17.8 167.9M20.0 167.1L17.0 167.1M20.0 161.8L17.8 161.8M20.0 158.6L17.8 158.6M20.0 156.4L17.8 156.4M20.0 154.7L17.8 154.7M20.0 153.3L17.8 153.3M20.0 152.1L17.8 152.1M20.0 151.0L17.8 151.0M20.0 150.1L17.8 150.1M20.0 149.3L17.0 149.3M20.0 144.0L17.8 144.0M20.0 140.8L17.8 140.8M20.0 138.6L17.8 138.6M20.0 136.9L17.8 136.9M20.0 135.5L17.8 135.5M20.0 134.3L17.8 134.3M20.0 133.2L17.8 133.2M20.0 132.3L17.8 132.3M20.0 131.5L17.0 131.5" stroke="#000" stroke-width="0.8" fill="none"/>
<text x="16.33" y="214.80" font-size="6.6" font-family="Liberation Sans, sans-serif" fill="#000">10<tspan dy="-2.77" font-size="5.61">0</tspan></text>
<g transform="translate(13.30 203.05) rotate(-90)"><text x="-5.07" y="0" font-size="6.4" font-family="Liberation Sans, sans-serif" fill="#000">10<tspan dy="-2.69" font-size="5.44">0</tspan></text></g>
<text x="42.08" y="214.80" font-size="6.6" font-family="Liberation Sans, sans-serif" fill="#000">10<tspan dy="-2.77" font-size="5.61">1</tspan></text>
<g transform="translate(13.30 185.24) rotate(-90)"><text x="-5.07" y="0" font-size="6.4" font-family="Liberation Sans, sans-serif" fill="#000">10<tspan dy="-2.69" font-size="5.44">1</tspan></text></g>
<text x="67.83" y="214.80" font-size="6.6" font-family="Liberation Sans, sans-serif" fill="#000">10<tspan dy="-2.77" font-size="5.61">2</tspan></text>
<g transform="translate(13.30 167.43) rotate(-90)"><text x="-5.07" y="0" font-size="6.4" font-family="Liberation Sans, sans-serif" fill="#000">10<tspan dy="-2.69" font-size="5.44">2</tspan></text></g>
<text x="93.58" y="214.80" font-size="6.6" font-family="Liberation Sans, sans-serif" fill="#000">10<tspan dy="-2.77" font-size="5.61">3</tspan></text>
<g transform="translate(13.30 149.61) rotate(-90)"><text x="-5.07" y="0" font-size="6.4" font-family="Liberation Sans, sans-serif" fill="#000">10<tspan dy="-2.69" font-size="5.44">3</tspan></text></g>
<text x="119.33" y="214.80" font-size="6.6" font-family="Liberation Sans, sans-serif" fill="#000">10<tspan dy="-2.77" font-size="5.61">4</tspan></text>
<g transform="translate(13.30 131.80) rotate(-90)"><text x="-5.07" y="0" font-size="6.4" font-family="Liberation Sans, sans-serif" fill="#000">10<tspan dy="-2.69" font-size="5.44">4</tspan></text></g>
<text x="6.6" y="168.3" font-size="6.8" font-family="Liberation Sans, sans-serif" text-anchor="middle" fill="#000" transform="rotate(-90 6.6 168.3)" textLength="29.5" lengthAdjust="spacingAndGlyphs">CD83 PE</text>
<line x1="105.50" y1="138.10" x2="105.50" y2="156.80" stroke="#444" stroke-width="0.6"/>
<line x1="92.50" y1="147.70" x2="119.40" y2="147.70" stroke="#444" stroke-width="0.6"/>
<text x="92.5" y="147" font-size="6.3" font-family="Liberation Serif, serif" text-anchor="start" fill="#000" textLength="10" lengthAdjust="spacingAndGlyphs" stroke="#000" stroke-width="0.15">3.18</text>
<text x="106.4" y="147" font-size="6.3" font-family="Liberation Serif, serif" text-anchor="start" fill="#000" textLength="13" lengthAdjust="spacingAndGlyphs" stroke="#000" stroke-width="0.15">51.76</text>
<text x="93.5" y="155.8" font-size="6.3" font-family="Liberation Serif, serif" text-anchor="start" fill="#000" textLength="9.5" lengthAdjust="spacingAndGlyphs" stroke="#000" stroke-width="0.15">7.11</text>
<text x="106.4" y="155.8" font-size="6.3" font-family="Liberation Serif, serif" text-anchor="start" fill="#000" textLength="13" lengthAdjust="spacingAndGlyphs" stroke="#000" stroke-width="0.15">37.96</text>
<path filter="url(#bl)" transform="translate(0 0.5)" d="M186 190h1M180 190h1M190 188h1M184 188h1M188 189h1M189 174h1M178 190h1M183 192h1M195 185h1M201 188h1M192 190h1M177 196h1M189 192h1M180 194h1M183 191h1M187 181h1M189 185h1M171 198h1M185 193h1M188 186h1M183 174h1M179 191h1M188 191h1M199 187h1M187 196h1M190 187h1M194 187h1M197 180h1M199 181h1M185 190h1M186 184h1M190 191h1M194 186h1M182 188h1M191 187h1M177 186h1M185 188h1M184 189h1M179 193h1M177 197h1M190 189h1M177 194h1M191 183h1M182 193h1M186 187h1M200 186h1M189 191h1M181 191h1M184 193h1M186 191h1M178 188h1M184 187h1M199 184h1M182 190h1M187 189h1M188 184h1M179 186h1M174 189h1M199 185h1M204 176h1M196 184h1M194 192h1M192 185h1M169 195h1M185 187h1M195 186h1M194 182h1M178 191h1M193 181h1M183 187h1M172 188h1M189 187h1M191 188h1M188 188h1M191 190h1M198 182h1M190 184h1M196 182h1M182 189h1M181 194h1M202 190h1M184 192h1M192 187h1M188 190h1M181 187h1M193 186h1M186 193h1M190 192h1M179 198h1M196 192h1M173 193h1M170 195h1M181 190h1M198 184h1M196 186h1M180 193h1M196 187h1M180 184h1M180 192h1M193 189h1M197 182h1M177 193h1M162 197h1M181 195h1" stroke="#999" stroke-width="1.0" fill="none"/>
<path filter="url(#bl)" transform="translate(0 0.5)" d="M188 186h1M186 192h1M187 181h1M185 190h1M175 198h1M200 182h1M184 189h1M174 193h1M183 191h1M187 192h1M183 187h1M197 184h1M192 189h1M189 192h1M173 186h1M187 187h1M190 187h1M182 194h1M188 188h1M190 192h1M185 170h1M173 189h1M182 189h1M191 188h1M186 195h1M195 185h1M187 194h1M180 190h1M181 195h1M186 189h1M199 188h1M179 188h1M185 195h1M184 188h1M187 190h1M185 191h1M181 189h1M194 189h1M197 187h1M190 191h1M186 190h1M188 193h1M190 182h1M171 196h1M188 182h1M174 194h1M185 197h1M184 191h1M201 189h1M196 184h1M183 192h1M173 185h1M200 186h1M165 165h1M180 194h1M186 188h1M185 186h1M176 190h1M195 191h1M178 197h1M204 189h1M190 188h1M173 182h1M192 182h1M194 183h1M208 163h1M193 189h1M186 196h1M196 183h1M197 191h1M179 189h1M179 192h1M196 186h1M186 187h1M196 187h1M190 186h1M180 195h1M187 195h1M183 188h1M183 189h1M189 186h1M187 189h1M182 198h1M185 188h1M192 187h1M187 188h1M176 188h1M198 188h1M181 193h1M187 186h1M191 184h1M181 190h1M206 183h1M178 195h1M175 182h1M186 181h1M195 180h1M201 180h1M188 187h1M189 194h1M180 188h1M189 195h1M190 189h1M191 189h1M200 190h1M191 185h1M195 174h1M188 189h1M202 180h1M185 189h1M197 190h1M201 184h1M193 190h1M191 186h1M185 192h1M184 193h1M191 191h1M189 184h1M192 185h1M182 190h1M184 195h1M175 192h1M194 192h1M192 191h1M186 193h1M176 189h1M193 184h1M177 188h1M190 184h1M191 183h1M186 194h1M183 195h1M202 184h1M195 193h1M191 182h1M194 188h1M187 191h1M169 198h1M180 187h1M202 186h1M165 174h1M175 193h1M184 182h1M194 187h1M200 188h1M176 187h1M195 188h1M200 178h1M194 181h1M186 191h1M189 183h1M185 185h1M208 179h1M184 186h1M197 188h1M185 193h1M178 184h1M200 192h1M187 193h1M177 189h1M188 169h1M182 193h1M193 186h1M177 195h1M181 191h1M174 195h1M198 185h1M182 188h1M205 188h1M194 194h1M193 188h1M173 191h1M198 184h1" stroke="#555" stroke-width="1.0" fill="none"/>
<path filter="url(#bl)" transform="translate(0 0.5)" d="M183 186h1M189 187h1M184 190h1M181 189h1M183 189h1M188 185h1M176 194h1M188 188h1M180 191h1M191 192h1M182 187h1M197 185h1M195 189h1M180 192h1M180 190h1M181 192h1M179 192h1M191 183h1M183 188h1M185 191h1M199 185h1M188 184h1M177 190h1M180 173h1M193 188h1M185 187h1M188 191h1M193 187h1M178 187h1M182 192h1M192 189h1M187 195h1M192 184h1M173 190h1M178 191h1M196 180h1M189 191h1M185 190h1M197 181h1M196 192h1M186 185h1M186 186h1M188 186h1M194 186h1M195 187h1M176 187h1M186 187h1M191 193h1M188 187h1M186 193h1M185 193h1M179 190h1M206 185h1M185 182h1M176 180h1M199 186h1M198 188h1M198 184h1M186 188h1M181 191h1M199 188h1M176 192h1M192 172h1M189 185h1M193 185h1M179 194h1M185 189h1M186 175h1M175 192h1M195 183h1M187 191h1M178 196h1M192 186h1M180 193h1M197 184h1M185 188h1M198 172h1M188 194h1M185 184h1M200 188h1M198 177h1M188 192h1M190 190h1M175 173h1M183 181h1M191 184h1M191 178h1M184 167h1M186 191h1M178 166h1M171 173h1M194 188h1M183 194h1M202 186h1M183 192h1M192 180h1M196 182h1M188 177h1M177 189h1M181 186h1M188 190h1M177 191h1M197 188h1M195 192h1M189 186h1M176 193h1M177 188h1M190 186h1M178 197h1M184 193h1M197 186h1M184 189h1M182 191h1M185 194h1M177 186h1M187 194h1M198 181h1M190 194h1M177 194h1M195 184h1M184 185h1M186 195h1M183 195h1M187 192h1M172 188h1M190 185h1M178 193h1M192 190h1M176 189h1M181 188h1M185 186h1M190 191h1M189 189h1M180 189h1M200 174h1M202 185h1M194 192h1M192 185h1M200 189h1M186 189h1M203 186h1M177 195h1M189 192h1M191 191h1M189 183h1M184 191h1M179 198h1M191 188h1M160 173h1M190 187h1M193 186h1M181 195h1M182 190h1M193 190h1M195 195h1M184 196h1M194 189h1M183 191h1M196 187h1M183 184h1M182 194h1M179 197h1M181 194h1M195 181h1M202 184h1M188 189h1M195 191h1M182 186h1M178 194h1M194 187h1M190 192h1M204 179h1M198 189h1M189 190h1M190 189h1M203 181h1M192 182h1M175 191h1M202 183h1M203 183h1M176 181h1M186 196h1M189 195h1M191 182h1M192 179h1M195 186h1M189 188h1M177 193h1M198 183h1M179 191h1M186 192h1M182 189h1M198 182h1M176 195h1M186 197h1M192 173h1M175 175h1M198 192h1M187 188h1M186 194h1M193 177h1M168 175h1M183 187h1M187 185h1M194 185h1M174 173h1M170 194h1M201 183h1M200 172h1M195 180h1M207 184h1M191 185h1M180 184h1M189 194h1M199 183h1M201 186h1M209 174h1M170 189h1M181 187h1M190 188h1M187 189h1M191 187h1M197 187h1M193 192h1M185 195h1M182 193h1M178 195h1M195 188h1M196 184h1M181 193h1M173 193h1M186 190h1M205 184h1M195 182h1M189 193h1M192 192h1M184 186h1M184 192h1M191 190h1M172 195h1M199 184h1M184 188h1M174 194h1M192 178h1M173 196h1M194 183h1M179 193h1M187 193h1M195 185h1M184 183h1M183 185h1M176 188h1M188 193h1M175 190h1M189 196h1M183 193h1M179 167h1M180 198h1M176 171h1M172 194h1M181 183h1M194 196h1M186 198h1M202 182h1M192 195h1M180 186h1M192 191h1M171 195h1M178 189h1M185 185h1M174 169h1M196 183h1M186 174h1M171 197h1M183 198h1M193 184h1M177 192h1M195 190h1M200 187h1M190 183h1M187 190h1M187 187h1M199 189h1M174 197h1M187 184h1M172 190h1M200 190h1M201 184h1M180 197h1M182 198h1M196 189h1M182 195h1M205 179h1M185 192h1M196 186h1M168 196h1M191 181h1M173 169h1M177 196h1M194 181h1M179 188h1M163 197h1M196 185h1M165 189h1M190 193h1M181 167h1M175 193h1M210 180h1M188 174h1M193 193h1M180 195h1M196 177h1M176 186h1M203 184h1M178 198h1M179 195h1M191 189h1M180 188h1M198 170h1M213 173h1M182 197h1M194 190h1M196 179h1M180 187h1M199 190h1M181 185h1M184 195h1M178 190h1M182 185h1M194 191h1M184 187h1M179 186h1M183 183h1M197 191h1M167 195h1M201 191h1M200 184h1M190 181h1M201 185h1M176 173h1M205 181h1M173 191h1M168 189h1M172 191h1M183 190h1M182 188h1M181 190h1M191 186h1M173 172h1M171 191h1M193 174h1M163 190h1M212 182h1M165 199h1M187 173h1M195 174h1M187 175h1M196 191h1M194 182h1M192 181h1M194 180h1M189 184h1M190 174h1M205 185h1M203 185h1M169 195h1M183 170h1M185 197h1M172 192h1M192 183h1M169 197h1M198 187h1M186 183h1M195 179h1M167 192h1M197 192h1M184 182h1M171 190h1M173 185h1M208 184h1M173 197h1M187 186h1M181 196h1M215 180h1M197 180h1M202 187h1M186 165h1M172 198h1M170 170h1" stroke="#111" stroke-width="1.0" fill="none"/>
<rect x="155.5" y="129" width="102.25" height="71.25" fill="none" stroke="#000" stroke-width="1.1"/>
<line x1="184.80" y1="129.00" x2="184.80" y2="200.25" stroke="#000" stroke-width="1.1"/>
<line x1="155.50" y1="180.50" x2="257.75" y2="180.50" stroke="#000" stroke-width="1.1"/>
<path d="M155.5 200.2L155.5 203.2M163.2 200.2L163.2 202.4M167.7 200.2L167.7 202.4M170.9 200.2L170.9 202.4M173.4 200.2L173.4 202.4M175.4 200.2L175.4 202.4M177.1 200.2L177.1 202.4M178.6 200.2L178.6 202.4M179.9 200.2L179.9 202.4M181.1 200.2L181.1 203.2M188.8 200.2L188.8 202.4M193.3 200.2L193.3 202.4M196.5 200.2L196.5 202.4M198.9 200.2L198.9 202.4M201.0 200.2L201.0 202.4M202.7 200.2L202.7 202.4M204.1 200.2L204.1 202.4M205.5 200.2L205.5 202.4M206.6 200.2L206.6 203.2M214.3 200.2L214.3 202.4M218.8 200.2L218.8 202.4M222.0 200.2L222.0 202.4M224.5 200.2L224.5 202.4M226.5 200.2L226.5 202.4M228.2 200.2L228.2 202.4M229.7 200.2L229.7 202.4M231.0 200.2L231.0 202.4M232.2 200.2L232.2 203.2M239.9 200.2L239.9 202.4M244.4 200.2L244.4 202.4M247.6 200.2L247.6 202.4M250.1 200.2L250.1 202.4M252.1 200.2L252.1 202.4M253.8 200.2L253.8 202.4M255.3 200.2L255.3 202.4M256.6 200.2L256.6 202.4M257.8 200.2L257.8 203.2" stroke="#000" stroke-width="0.8" fill="none"/>
<path d="M155.5 200.2L152.5 200.2M155.5 194.9L153.3 194.9M155.5 191.8L153.3 191.8M155.5 189.5L153.3 189.5M155.5 187.8L153.3 187.8M155.5 186.4L153.3 186.4M155.5 185.2L153.3 185.2M155.5 184.2L153.3 184.2M155.5 183.3L153.3 183.3M155.5 182.4L152.5 182.4M155.5 177.1L153.3 177.1M155.5 173.9L153.3 173.9M155.5 171.7L153.3 171.7M155.5 170.0L153.3 170.0M155.5 168.6L153.3 168.6M155.5 167.4L153.3 167.4M155.5 166.4L153.3 166.4M155.5 165.4L153.3 165.4M155.5 164.6L152.5 164.6M155.5 159.3L153.3 159.3M155.5 156.1L153.3 156.1M155.5 153.9L153.3 153.9M155.5 152.2L153.3 152.2M155.5 150.8L153.3 150.8M155.5 149.6L153.3 149.6M155.5 148.5L153.3 148.5M155.5 147.6L153.3 147.6M155.5 146.8L152.5 146.8M155.5 141.5L153.3 141.5M155.5 138.3L153.3 138.3M155.5 136.1L153.3 136.1M155.5 134.4L153.3 134.4M155.5 133.0L153.3 133.0M155.5 131.8L153.3 131.8M155.5 130.7L153.3 130.7M155.5 129.8L153.3 129.8M155.5 129.0L152.5 129.0" stroke="#000" stroke-width="0.8" fill="none"/>
<text x="151.83" y="212.20" font-size="6.6" font-family="Liberation Sans, sans-serif" fill="#000">10<tspan dy="-2.77" font-size="5.61">0</tspan></text>
<g transform="translate(148.50 200.55) rotate(-90)"><text x="-5.07" y="0" font-size="6.4" font-family="Liberation Sans, sans-serif" fill="#000">10<tspan dy="-2.69" font-size="5.44">0</tspan></text></g>
<text x="177.39" y="212.20" font-size="6.6" font-family="Liberation Sans, sans-serif" fill="#000">10<tspan dy="-2.77" font-size="5.61">1</tspan></text>
<g transform="translate(148.50 182.74) rotate(-90)"><text x="-5.07" y="0" font-size="6.4" font-family="Liberation Sans, sans-serif" fill="#000">10<tspan dy="-2.69" font-size="5.44">1</tspan></text></g>
<text x="202.96" y="212.20" font-size="6.6" font-family="Liberation Sans, sans-serif" fill="#000">10<tspan dy="-2.77" font-size="5.61">2</tspan></text>
<g transform="translate(148.50 164.93) rotate(-90)"><text x="-5.07" y="0" font-size="6.4" font-family="Liberation Sans, sans-serif" fill="#000">10<tspan dy="-2.69" font-size="5.44">2</tspan></text></g>
<text x="228.52" y="212.20" font-size="6.6" font-family="Liberation Sans, sans-serif" fill="#000">10<tspan dy="-2.77" font-size="5.61">3</tspan></text>
<g transform="translate(148.50 147.11) rotate(-90)"><text x="-5.07" y="0" font-size="6.4" font-family="Liberation Sans, sans-serif" fill="#000">10<tspan dy="-2.69" font-size="5.44">3</tspan></text></g>
<text x="254.08" y="212.20" font-size="6.6" font-family="Liberation Sans, sans-serif" fill="#000">10<tspan dy="-2.77" font-size="5.61">4</tspan></text>
<g transform="translate(148.50 129.30) rotate(-90)"><text x="-5.07" y="0" font-size="6.4" font-family="Liberation Sans, sans-serif" fill="#000">10<tspan dy="-2.69" font-size="5.44">4</tspan></text></g>
<text x="142.3" y="164.6" font-size="6.7" font-family="Liberation Sans, sans-serif" font-weight="bold" text-anchor="middle" fill="#000" transform="rotate(-90 142.3 164.6)" textLength="28" lengthAdjust="spacingAndGlyphs">CD40 PE</text>
<line x1="240.25" y1="136.25" x2="240.25" y2="154.40" stroke="#444" stroke-width="0.6"/>
<line x1="227.50" y1="145.00" x2="252.50" y2="145.00" stroke="#444" stroke-width="0.6"/>
<text x="228.5" y="144.5" font-size="6.3" font-family="Liberation Serif, serif" text-anchor="start" fill="#000" textLength="9.5" lengthAdjust="spacingAndGlyphs" stroke="#000" stroke-width="0.15">1.87</text>
<text x="242" y="144.5" font-size="6.3" font-family="Liberation Serif, serif" text-anchor="start" fill="#000" textLength="10" lengthAdjust="spacingAndGlyphs" stroke="#000" stroke-width="0.15">1.96</text>
<text x="225.6" y="153.8" font-size="6.3" font-family="Liberation Serif, serif" text-anchor="start" fill="#000" textLength="12.4" lengthAdjust="spacingAndGlyphs" stroke="#000" stroke-width="0.15">34.59</text>
<text x="242" y="153.8" font-size="6.3" font-family="Liberation Serif, serif" text-anchor="start" fill="#000" textLength="12" lengthAdjust="spacingAndGlyphs" stroke="#000" stroke-width="0.15">61.58</text>
<line x1="24.40" y1="221.40" x2="126.30" y2="221.40" stroke="#000" stroke-width="1.1"/>
<text x="130" y="223.6" font-size="6.6" font-family="Liberation Sans, sans-serif" text-anchor="start" fill="#000" textLength="31" lengthAdjust="spacingAndGlyphs">CD40 FITC</text>
<line x1="162.50" y1="221.40" x2="250.50" y2="221.40" stroke="#000" stroke-width="1.1"/>
<path d="M256 221.4L249.5 218.6L249.5 224.2Z" fill="#000"/>
<path d="M294.0 87.5 L295.0 85.6 L298.1 81.2 L300.6 72.5 L302.5 65.0 L304.4 59.4 L305.6 58.1 L306.9 60.0 L308.1 58.1 L310.0 61.9 L311.9 70.0 L313.8 77.5 L316.2 83.8 L318.8 86.2 L322.0 87.5" fill="none" stroke="#8a8a8a" stroke-width="0.8" stroke-linejoin="round"/>
<path d="M308.8 87.3 L311.9 84.4 L314.4 81.2 L316.9 77.5 L319.4 72.5 L321.9 65.0 L324.4 58.1 L326.9 52.5 L328.1 50.0 L330.0 55.0 L331.9 61.2 L333.8 71.2 L335.6 80.0 L337.5 85.6 L339.4 87.3 L342.0 87.5" fill="none" stroke="#7a7a7a" stroke-width="1.1" stroke-linejoin="round" stroke-dasharray="2 1"/>
<path d="M294.0 87.4 L297.5 86.5 L301.9 82.5 L304.4 73.8 L306.2 62.5 L307.5 53.8 L308.8 50.0 L309.8 53.1 L310.6 58.8 L312.5 66.2 L314.4 72.5 L316.2 77.5 L318.8 81.9 L321.9 85.0 L325.0 86.6 L330.0 87.4" fill="none" stroke="#000" stroke-width="1.7" stroke-linejoin="round"/>
<rect x="293.5" y="20" width="94.5" height="68.6" fill="none" stroke="#000" stroke-width="1.1"/>
<path d="M293.5 88.6L293.5 90.8M300.6 88.6L300.6 90.0M304.8 88.6L304.8 90.0M307.7 88.6L307.7 90.0M310.0 88.6L310.0 90.0M311.9 88.6L311.9 90.0M313.5 88.6L313.5 90.0M314.8 88.6L314.8 90.0M316.0 88.6L316.0 90.0M317.1 88.6L317.1 90.8M324.2 88.6L324.2 90.0M328.4 88.6L328.4 90.0M331.3 88.6L331.3 90.0M333.6 88.6L333.6 90.0M335.5 88.6L335.5 90.0M337.1 88.6L337.1 90.0M338.5 88.6L338.5 90.0M339.7 88.6L339.7 90.0M340.8 88.6L340.8 90.8M347.9 88.6L347.9 90.0M352.0 88.6L352.0 90.0M355.0 88.6L355.0 90.0M357.3 88.6L357.3 90.0M359.1 88.6L359.1 90.0M360.7 88.6L360.7 90.0M362.1 88.6L362.1 90.0M363.3 88.6L363.3 90.0M364.4 88.6L364.4 90.8M371.5 88.6L371.5 90.0M375.6 88.6L375.6 90.0M378.6 88.6L378.6 90.0M380.9 88.6L380.9 90.0M382.8 88.6L382.8 90.0M384.3 88.6L384.3 90.0M385.7 88.6L385.7 90.0M386.9 88.6L386.9 90.0M388.0 88.6L388.0 90.8" stroke="#000" stroke-width="0.8" fill="none"/>
<path d="M293.5 88.6L291.3 88.6M293.5 85.9L292.2 85.9M293.5 83.1L292.2 83.1M293.5 80.4L292.2 80.4M293.5 77.6L292.2 77.6M293.5 74.9L291.3 74.9M293.5 72.1L292.2 72.1M293.5 69.4L292.2 69.4M293.5 66.6L292.2 66.6M293.5 63.9L292.2 63.9M293.5 61.2L291.3 61.2M293.5 58.4L292.2 58.4M293.5 55.7L292.2 55.7M293.5 52.9L292.2 52.9M293.5 50.2L292.2 50.2M293.5 47.4L291.3 47.4M293.5 44.7L292.2 44.7M293.5 42.0L292.2 42.0M293.5 39.2L292.2 39.2M293.5 36.5L292.2 36.5M293.5 33.7L291.3 33.7M293.5 31.0L292.2 31.0M293.5 28.2L292.2 28.2M293.5 25.5L292.2 25.5M293.5 22.7L292.2 22.7M293.5 20.0L291.3 20.0" stroke="#000" stroke-width="0.8" fill="none"/>
<text x="288.7" y="88.6" font-size="5.4" font-family="Liberation Sans, sans-serif" font-weight="bold" text-anchor="middle" fill="#000" transform="rotate(-90 288.7 88.6)">0</text>
<text x="288.7" y="74.88" font-size="5.4" font-family="Liberation Sans, sans-serif" font-weight="bold" text-anchor="middle" fill="#000" transform="rotate(-90 288.7 74.88)">10</text>
<text x="288.7" y="61.16" font-size="5.4" font-family="Liberation Sans, sans-serif" font-weight="bold" text-anchor="middle" fill="#000" transform="rotate(-90 288.7 61.16)">20</text>
<text x="288.7" y="47.44" font-size="5.4" font-family="Liberation Sans, sans-serif" font-weight="bold" text-anchor="middle" fill="#000" transform="rotate(-90 288.7 47.44)">30</text>
<text x="288.7" y="33.71999999999999" font-size="5.4" font-family="Liberation Sans, sans-serif" font-weight="bold" text-anchor="middle" fill="#000" transform="rotate(-90 288.7 33.71999999999999)">40</text>
<text x="288.7" y="20.0" font-size="5.4" font-family="Liberation Sans, sans-serif" font-weight="bold" text-anchor="middle" fill="#000" transform="rotate(-90 288.7 20.0)">50</text>
<text x="290.61" y="97.70" font-size="5.2" font-family="Liberation Sans, sans-serif" fill="#000">10<tspan dy="-2.18" font-size="4.42">0</tspan></text>
<text x="314.23" y="97.70" font-size="5.2" font-family="Liberation Sans, sans-serif" fill="#000">10<tspan dy="-2.18" font-size="4.42">1</tspan></text>
<text x="337.86" y="97.70" font-size="5.2" font-family="Liberation Sans, sans-serif" fill="#000">10<tspan dy="-2.18" font-size="4.42">2</tspan></text>
<text x="361.48" y="97.70" font-size="5.2" font-family="Liberation Sans, sans-serif" fill="#000">10<tspan dy="-2.18" font-size="4.42">3</tspan></text>
<text x="385.11" y="97.70" font-size="5.2" font-family="Liberation Sans, sans-serif" fill="#000">10<tspan dy="-2.18" font-size="4.42">4</tspan></text>
<text x="281.7" y="55.8" font-size="5.4" font-family="Liberation Sans, sans-serif" font-weight="bold" text-anchor="middle" fill="#000" transform="rotate(-90 281.7 55.8)" textLength="18.5" lengthAdjust="spacingAndGlyphs">Counts</text>
<text x="337.3" y="103.8" font-size="5.2" font-family="Liberation Sans, sans-serif" font-weight="bold" text-anchor="middle" fill="#000" textLength="13" lengthAdjust="spacingAndGlyphs">CD80</text>
<text x="295" y="44.4" font-size="5.2" font-family="Liberation Sans, sans-serif" font-weight="bold" text-anchor="start" fill="#000" textLength="15.6" lengthAdjust="spacingAndGlyphs">Isotype</text>
<text x="317" y="46.8" font-size="5.2" font-family="Liberation Sans, sans-serif" font-weight="bold" text-anchor="start" fill="#000" textLength="35" lengthAdjust="spacingAndGlyphs">Control peptide</text>
<text x="347" y="58.2" font-size="5.2" font-family="Liberation Sans, sans-serif" font-weight="bold" text-anchor="start" fill="#000" textLength="19.5" lengthAdjust="spacingAndGlyphs">PAR2 AP</text>
<line x1="299.40" y1="46.30" x2="302.01" y2="54.42" stroke="#000" stroke-width="0.8"/>
<path d="M302.80 56.90L300.86 54.79L303.15 54.06Z" fill="#000"/>
<line x1="316.30" y1="45.30" x2="313.01" y2="49.46" stroke="#000" stroke-width="0.8"/>
<path d="M311.40 51.50L312.07 48.72L313.95 50.20Z" fill="#000"/>
<line x1="345.50" y1="58.20" x2="337.04" y2="61.30" stroke="#000" stroke-width="0.8"/>
<path d="M334.60 62.20L336.63 60.18L337.45 62.43Z" fill="#000"/>
<path d="M423.8 89.0 L426.5 74.5 L429.1 60.0 L431.1 52.1 L433.0 49.5 L434.4 52.1 L435.7 50.1 L437.0 56.0 L438.3 61.3 L439.0 71.8 L440.3 79.7 L442.3 85.7 L444.9 89.0" fill="none" stroke="#8a8a8a" stroke-width="0.8" stroke-linejoin="round"/>
<path d="M425.0 89.2 L429.1 88.3 L434.4 83.7 L438.3 77.1 L441.0 69.2 L444.2 62.6 L446.2 64.6 L448.2 69.2 L450.2 66.6 L452.1 70.5 L454.8 66.6 L456.7 69.9 L458.7 72.5 L460.7 75.8 L462.7 81.7 L464.6 86.3 L468.6 87.6 L471.9 89.0 L475.0 89.2" fill="none" stroke="#555" stroke-width="0.8" stroke-linejoin="round"/>
<path d="M416.5 89.0 L417.3 85.0 L418.6 89.0 L421.9 86.3 L424.5 78.4 L427.1 68.6 L429.1 62.0 L431.1 60.0 L433.0 63.9 L435.0 71.2 L437.7 79.7 L440.3 85.7 L443.6 89.0 L450.0 89.2" fill="none" stroke="#000" stroke-width="1.7" stroke-linejoin="round"/>
<rect x="416" y="22.7" width="99" height="67.1" fill="none" stroke="#000" stroke-width="1.1"/>
<path d="M416.0 89.8L416.0 92.0M423.5 89.8L423.5 91.2M427.8 89.8L427.8 91.2M430.9 89.8L430.9 91.2M433.3 89.8L433.3 91.2M435.3 89.8L435.3 91.2M436.9 89.8L436.9 91.2M438.4 89.8L438.4 91.2M439.6 89.8L439.6 91.2M440.8 89.8L440.8 92.0M448.2 89.8L448.2 91.2M452.6 89.8L452.6 91.2M455.7 89.8L455.7 91.2M458.0 89.8L458.0 91.2M460.0 89.8L460.0 91.2M461.7 89.8L461.7 91.2M463.1 89.8L463.1 91.2M464.4 89.8L464.4 91.2M465.5 89.8L465.5 92.0M473.0 89.8L473.0 91.2M477.3 89.8L477.3 91.2M480.4 89.8L480.4 91.2M482.8 89.8L482.8 91.2M484.8 89.8L484.8 91.2M486.4 89.8L486.4 91.2M487.9 89.8L487.9 91.2M489.1 89.8L489.1 91.2M490.2 89.8L490.2 92.0M497.7 89.8L497.7 91.2M502.1 89.8L502.1 91.2M505.2 89.8L505.2 91.2M507.5 89.8L507.5 91.2M509.5 89.8L509.5 91.2M511.2 89.8L511.2 91.2M512.6 89.8L512.6 91.2M513.9 89.8L513.9 91.2M515.0 89.8L515.0 92.0" stroke="#000" stroke-width="0.8" fill="none"/>
<path d="M416.0 89.8L413.8 89.8M416.0 87.1L414.7 87.1M416.0 84.4L414.7 84.4M416.0 81.7L414.7 81.7M416.0 79.1L414.7 79.1M416.0 76.4L413.8 76.4M416.0 73.7L414.7 73.7M416.0 71.0L414.7 71.0M416.0 68.3L414.7 68.3M416.0 65.6L414.7 65.6M416.0 63.0L413.8 63.0M416.0 60.3L414.7 60.3M416.0 57.6L414.7 57.6M416.0 54.9L414.7 54.9M416.0 52.2L414.7 52.2M416.0 49.5L413.8 49.5M416.0 46.9L414.7 46.9M416.0 44.2L414.7 44.2M416.0 41.5L414.7 41.5M416.0 38.8L414.7 38.8M416.0 36.1L413.8 36.1M416.0 33.4L414.7 33.4M416.0 30.8L414.7 30.8M416.0 28.1L414.7 28.1M416.0 25.4L414.7 25.4M416.0 22.7L413.8 22.7" stroke="#000" stroke-width="0.8" fill="none"/>
<text x="411.2" y="89.8" font-size="5.4" font-family="Liberation Sans, sans-serif" font-weight="bold" text-anchor="middle" fill="#000" transform="rotate(-90 411.2 89.8)">0</text>
<text x="411.2" y="76.38" font-size="5.4" font-family="Liberation Sans, sans-serif" font-weight="bold" text-anchor="middle" fill="#000" transform="rotate(-90 411.2 76.38)">10</text>
<text x="411.2" y="62.959999999999994" font-size="5.4" font-family="Liberation Sans, sans-serif" font-weight="bold" text-anchor="middle" fill="#000" transform="rotate(-90 411.2 62.959999999999994)">20</text>
<text x="411.2" y="49.54" font-size="5.4" font-family="Liberation Sans, sans-serif" font-weight="bold" text-anchor="middle" fill="#000" transform="rotate(-90 411.2 49.54)">30</text>
<text x="411.2" y="36.12" font-size="5.4" font-family="Liberation Sans, sans-serif" font-weight="bold" text-anchor="middle" fill="#000" transform="rotate(-90 411.2 36.12)">40</text>
<text x="411.2" y="22.700000000000003" font-size="5.4" font-family="Liberation Sans, sans-serif" font-weight="bold" text-anchor="middle" fill="#000" transform="rotate(-90 411.2 22.700000000000003)">50</text>
<text x="413.11" y="98.90" font-size="5.2" font-family="Liberation Sans, sans-serif" fill="#000">10<tspan dy="-2.18" font-size="4.42">0</tspan></text>
<text x="437.86" y="98.90" font-size="5.2" font-family="Liberation Sans, sans-serif" fill="#000">10<tspan dy="-2.18" font-size="4.42">1</tspan></text>
<text x="462.61" y="98.90" font-size="5.2" font-family="Liberation Sans, sans-serif" fill="#000">10<tspan dy="-2.18" font-size="4.42">2</tspan></text>
<text x="487.36" y="98.90" font-size="5.2" font-family="Liberation Sans, sans-serif" fill="#000">10<tspan dy="-2.18" font-size="4.42">3</tspan></text>
<text x="512.11" y="98.90" font-size="5.2" font-family="Liberation Sans, sans-serif" fill="#000">10<tspan dy="-2.18" font-size="4.42">4</tspan></text>
<text x="404.2" y="57.75" font-size="5.4" font-family="Liberation Sans, sans-serif" font-weight="bold" text-anchor="middle" fill="#000" transform="rotate(-90 404.2 57.75)" textLength="18.5" lengthAdjust="spacingAndGlyphs">Counts</text>
<text x="458.8" y="106.8" font-size="5.2" font-family="Liberation Sans, sans-serif" font-weight="bold" text-anchor="middle" fill="#000" textLength="13" lengthAdjust="spacingAndGlyphs">CD86</text>
<text x="418.6" y="45.6" font-size="5.2" font-family="Liberation Sans, sans-serif" font-weight="bold" text-anchor="start" fill="#000" textLength="36" lengthAdjust="spacingAndGlyphs">Control peptide</text>
<text x="448.2" y="53.4" font-size="5.2" font-family="Liberation Sans, sans-serif" font-weight="bold" text-anchor="start" fill="#000" textLength="17" lengthAdjust="spacingAndGlyphs">Isotype</text>
<text x="472.5" y="70" font-size="5.2" font-family="Liberation Sans, sans-serif" font-weight="bold" text-anchor="start" fill="#000" textLength="19" lengthAdjust="spacingAndGlyphs">PAR2 AP</text>
<line x1="421.90" y1="46.80" x2="426.32" y2="60.82" stroke="#000" stroke-width="0.8"/>
<path d="M427.10 63.30L425.17 61.18L427.46 60.46Z" fill="#000"/>
<line x1="447.50" y1="51.00" x2="439.86" y2="56.15" stroke="#000" stroke-width="0.8"/>
<path d="M437.70 57.60L439.19 55.15L440.53 57.14Z" fill="#000"/>
<line x1="472.50" y1="68.60" x2="465.12" y2="73.14" stroke="#000" stroke-width="0.8"/>
<path d="M462.90 74.50L464.49 72.12L465.74 74.16Z" fill="#000"/>
<path d="M294.0 172.5 L296.0 167.0 L298.0 160.0 L300.0 148.0 L302.0 136.0 L304.0 128.0 L305.8 124.0 L307.0 128.0 L308.5 126.0 L310.0 134.0 L312.0 144.0 L315.0 152.0 L320.0 160.0 L325.0 165.0 L330.0 168.0 L335.0 172.5" fill="none" stroke="#7a7a7a" stroke-width="0.8" stroke-linejoin="round"/>
<path d="M334.0 172.6 L336.5 168.0 L341.0 165.5 L345.8 163.4 L348.0 160.0 L350.4 156.5 L353.8 150.8 L356.7 148.5 L359.6 147.3 L360.8 154.2 L364.2 160.0 L367.5 164.0 L371.1 167.5 L375.7 171.0 L378.0 172.6" fill="none" stroke="#333" stroke-width="1.4" stroke-linejoin="round" stroke-dasharray="1.8 1.3"/>
<path d="M293.5 172.5 L295.0 169.0 L297.0 166.0 L300.0 160.0 L303.0 151.0 L306.0 145.0 L308.6 142.7 L311.0 146.0 L314.0 150.0 L317.0 153.0 L320.0 156.0 L323.0 159.0 L326.0 162.0 L330.0 166.0 L334.0 170.0 L337.0 172.0 L340.0 172.6" fill="none" stroke="#000" stroke-width="1.7" stroke-linejoin="round"/>
<rect x="293.1" y="109.6" width="95.39999999999998" height="63.70000000000002" fill="none" stroke="#000" stroke-width="1.1"/>
<path d="M293.1 173.3L293.1 175.5M300.3 173.3L300.3 174.7M304.5 173.3L304.5 174.7M307.5 173.3L307.5 174.7M309.8 173.3L309.8 174.7M311.7 173.3L311.7 174.7M313.3 173.3L313.3 174.7M314.6 173.3L314.6 174.7M315.9 173.3L315.9 174.7M317.0 173.3L317.0 175.5M324.1 173.3L324.1 174.7M328.3 173.3L328.3 174.7M331.3 173.3L331.3 174.7M333.6 173.3L333.6 174.7M335.5 173.3L335.5 174.7M337.1 173.3L337.1 174.7M338.5 173.3L338.5 174.7M339.7 173.3L339.7 174.7M340.8 173.3L340.8 175.5M348.0 173.3L348.0 174.7M352.2 173.3L352.2 174.7M355.2 173.3L355.2 174.7M357.5 173.3L357.5 174.7M359.4 173.3L359.4 174.7M361.0 173.3L361.0 174.7M362.3 173.3L362.3 174.7M363.6 173.3L363.6 174.7M364.6 173.3L364.6 175.5M371.8 173.3L371.8 174.7M376.0 173.3L376.0 174.7M379.0 173.3L379.0 174.7M381.3 173.3L381.3 174.7M383.2 173.3L383.2 174.7M384.8 173.3L384.8 174.7M386.2 173.3L386.2 174.7M387.4 173.3L387.4 174.7M388.5 173.3L388.5 175.5" stroke="#000" stroke-width="0.8" fill="none"/>
<path d="M293.1 173.3L290.9 173.3M293.1 170.8L291.8 170.8M293.1 168.2L291.8 168.2M293.1 165.7L291.8 165.7M293.1 163.1L291.8 163.1M293.1 160.6L290.9 160.6M293.1 158.0L291.8 158.0M293.1 155.5L291.8 155.5M293.1 152.9L291.8 152.9M293.1 150.4L291.8 150.4M293.1 147.8L290.9 147.8M293.1 145.3L291.8 145.3M293.1 142.7L291.8 142.7M293.1 140.2L291.8 140.2M293.1 137.6L291.8 137.6M293.1 135.1L290.9 135.1M293.1 132.5L291.8 132.5M293.1 130.0L291.8 130.0M293.1 127.4L291.8 127.4M293.1 124.9L291.8 124.9M293.1 122.3L290.9 122.3M293.1 119.8L291.8 119.8M293.1 117.2L291.8 117.2M293.1 114.7L291.8 114.7M293.1 112.1L291.8 112.1M293.1 109.6L290.9 109.6" stroke="#000" stroke-width="0.8" fill="none"/>
<text x="288.3" y="173.3" font-size="5.4" font-family="Liberation Sans, sans-serif" font-weight="bold" text-anchor="middle" fill="#000" transform="rotate(-90 288.3 173.3)">0</text>
<text x="288.3" y="160.56" font-size="5.4" font-family="Liberation Sans, sans-serif" font-weight="bold" text-anchor="middle" fill="#000" transform="rotate(-90 288.3 160.56)">10</text>
<text x="288.3" y="147.82" font-size="5.4" font-family="Liberation Sans, sans-serif" font-weight="bold" text-anchor="middle" fill="#000" transform="rotate(-90 288.3 147.82)">20</text>
<text x="288.3" y="135.08" font-size="5.4" font-family="Liberation Sans, sans-serif" font-weight="bold" text-anchor="middle" fill="#000" transform="rotate(-90 288.3 135.08)">30</text>
<text x="288.3" y="122.34" font-size="5.4" font-family="Liberation Sans, sans-serif" font-weight="bold" text-anchor="middle" fill="#000" transform="rotate(-90 288.3 122.34)">40</text>
<text x="288.3" y="109.6" font-size="5.4" font-family="Liberation Sans, sans-serif" font-weight="bold" text-anchor="middle" fill="#000" transform="rotate(-90 288.3 109.6)">50</text>
<text x="290.21" y="182.40" font-size="5.2" font-family="Liberation Sans, sans-serif" fill="#000">10<tspan dy="-2.18" font-size="4.42">0</tspan></text>
<text x="314.06" y="182.40" font-size="5.2" font-family="Liberation Sans, sans-serif" fill="#000">10<tspan dy="-2.18" font-size="4.42">1</tspan></text>
<text x="337.91" y="182.40" font-size="5.2" font-family="Liberation Sans, sans-serif" fill="#000">10<tspan dy="-2.18" font-size="4.42">2</tspan></text>
<text x="361.76" y="182.40" font-size="5.2" font-family="Liberation Sans, sans-serif" fill="#000">10<tspan dy="-2.18" font-size="4.42">3</tspan></text>
<text x="385.61" y="182.40" font-size="5.2" font-family="Liberation Sans, sans-serif" fill="#000">10<tspan dy="-2.18" font-size="4.42">4</tspan></text>
<text x="281.3" y="142.95" font-size="5.4" font-family="Liberation Sans, sans-serif" font-weight="bold" text-anchor="middle" fill="#000" transform="rotate(-90 281.3 142.95)" textLength="18.5" lengthAdjust="spacingAndGlyphs">Counts</text>
<text x="331.1" y="187.8" font-size="5.2" font-family="Liberation Sans, sans-serif" font-weight="bold" text-anchor="middle" fill="#000" textLength="20.7" lengthAdjust="spacingAndGlyphs">HLA-DR</text>
<text x="315" y="123.8" font-size="5.2" font-family="Liberation Sans, sans-serif" font-weight="bold" text-anchor="start" fill="#000" textLength="16.8" lengthAdjust="spacingAndGlyphs">Isotype</text>
<text x="316.4" y="148.7" font-size="5.2" font-family="Liberation Sans, sans-serif" font-weight="bold" text-anchor="start" fill="#000" textLength="34.5" lengthAdjust="spacingAndGlyphs">Control peptide</text>
<text x="360.4" y="138.7" font-size="5.2" font-family="Liberation Sans, sans-serif" font-weight="bold" text-anchor="start" fill="#000" textLength="20" lengthAdjust="spacingAndGlyphs">PAR2 AP</text>
<line x1="315.50" y1="123.50" x2="311.19" y2="128.53" stroke="#000" stroke-width="0.8"/>
<path d="M309.50 130.50L310.28 127.74L312.10 129.31Z" fill="#000"/>
<line x1="325.50" y1="149.50" x2="321.88" y2="155.30" stroke="#000" stroke-width="0.8"/>
<path d="M320.50 157.50L320.86 154.66L322.90 155.93Z" fill="#000"/>
<line x1="359.60" y1="139.00" x2="359.60" y2="146.40" stroke="#000" stroke-width="0.8"/>
<path d="M359.60 149.00L358.40 146.40L360.80 146.40Z" fill="#000"/>
<path d="M417.3 172.0 L419.2 162.7 L421.2 157.5 L423.8 148.3 L425.2 145.0 L427.1 143.0 L428.4 137.7 L429.8 143.0 L431.1 150.9 L433.0 156.2 L435.7 160.1 L438.3 164.0 L442.3 168.0 L446.2 170.6 L451.5 172.6 L455.0 173.6" fill="none" stroke="#7a7a7a" stroke-width="1.2" stroke-linejoin="round"/>
<path d="M421.2 172.0 L425.2 169.3 L429.1 167.3 L433.0 163.4 L436.3 158.8 L438.3 150.9 L439.6 145.6 L441.6 141.7 L443.6 146.3 L446.2 150.9 L448.8 156.2 L451.5 161.4 L454.1 166.7 L456.7 170.6 L459.4 172.0 L466.0 172.6" fill="none" stroke="#777" stroke-width="1.2" stroke-linejoin="round" stroke-dasharray="2 1"/>
<path d="M417.0 173.6 L419.2 173.3 L422.5 170.6 L425.2 164.0 L427.1 154.8 L428.4 148.9 L429.8 153.5 L431.1 152.2 L433.0 153.5 L435.0 154.2 L437.0 156.2 L439.6 160.1 L442.3 163.4 L444.9 166.0 L447.5 168.7 L450.2 171.3 L454.1 173.3 L458.0 173.7" fill="none" stroke="#000" stroke-width="1.7" stroke-linejoin="round"/>
<rect x="416" y="111.7" width="97.5" height="62.8" fill="none" stroke="#000" stroke-width="1.1"/>
<path d="M416.0 174.5L416.0 176.7M423.3 174.5L423.3 175.9M427.6 174.5L427.6 175.9M430.7 174.5L430.7 175.9M433.0 174.5L433.0 175.9M435.0 174.5L435.0 175.9M436.6 174.5L436.6 175.9M438.0 174.5L438.0 175.9M439.3 174.5L439.3 175.9M440.4 174.5L440.4 176.7M447.7 174.5L447.7 175.9M452.0 174.5L452.0 175.9M455.1 174.5L455.1 175.9M457.4 174.5L457.4 175.9M459.3 174.5L459.3 175.9M461.0 174.5L461.0 175.9M462.4 174.5L462.4 175.9M463.6 174.5L463.6 175.9M464.8 174.5L464.8 176.7M472.1 174.5L472.1 175.9M476.4 174.5L476.4 175.9M479.4 174.5L479.4 175.9M481.8 174.5L481.8 175.9M483.7 174.5L483.7 175.9M485.3 174.5L485.3 175.9M486.8 174.5L486.8 175.9M488.0 174.5L488.0 175.9M489.1 174.5L489.1 176.7M496.5 174.5L496.5 175.9M500.8 174.5L500.8 175.9M503.8 174.5L503.8 175.9M506.2 174.5L506.2 175.9M508.1 174.5L508.1 175.9M509.7 174.5L509.7 175.9M511.1 174.5L511.1 175.9M512.4 174.5L512.4 175.9M513.5 174.5L513.5 176.7" stroke="#000" stroke-width="0.8" fill="none"/>
<path d="M416.0 174.5L413.8 174.5M416.0 172.0L414.7 172.0M416.0 169.5L414.7 169.5M416.0 167.0L414.7 167.0M416.0 164.5L414.7 164.5M416.0 161.9L413.8 161.9M416.0 159.4L414.7 159.4M416.0 156.9L414.7 156.9M416.0 154.4L414.7 154.4M416.0 151.9L414.7 151.9M416.0 149.4L413.8 149.4M416.0 146.9L414.7 146.9M416.0 144.4L414.7 144.4M416.0 141.8L414.7 141.8M416.0 139.3L414.7 139.3M416.0 136.8L413.8 136.8M416.0 134.3L414.7 134.3M416.0 131.8L414.7 131.8M416.0 129.3L414.7 129.3M416.0 126.8L414.7 126.8M416.0 124.3L413.8 124.3M416.0 121.7L414.7 121.7M416.0 119.2L414.7 119.2M416.0 116.7L414.7 116.7M416.0 114.2L414.7 114.2M416.0 111.7L413.8 111.7" stroke="#000" stroke-width="0.8" fill="none"/>
<text x="411.2" y="174.5" font-size="5.4" font-family="Liberation Sans, sans-serif" font-weight="bold" text-anchor="middle" fill="#000" transform="rotate(-90 411.2 174.5)">0</text>
<text x="411.2" y="161.94" font-size="5.4" font-family="Liberation Sans, sans-serif" font-weight="bold" text-anchor="middle" fill="#000" transform="rotate(-90 411.2 161.94)">10</text>
<text x="411.2" y="149.38" font-size="5.4" font-family="Liberation Sans, sans-serif" font-weight="bold" text-anchor="middle" fill="#000" transform="rotate(-90 411.2 149.38)">20</text>
<text x="411.2" y="136.82" font-size="5.4" font-family="Liberation Sans, sans-serif" font-weight="bold" text-anchor="middle" fill="#000" transform="rotate(-90 411.2 136.82)">30</text>
<text x="411.2" y="124.25999999999999" font-size="5.4" font-family="Liberation Sans, sans-serif" font-weight="bold" text-anchor="middle" fill="#000" transform="rotate(-90 411.2 124.25999999999999)">40</text>
<text x="411.2" y="111.7" font-size="5.4" font-family="Liberation Sans, sans-serif" font-weight="bold" text-anchor="middle" fill="#000" transform="rotate(-90 411.2 111.7)">50</text>
<text x="413.11" y="183.60" font-size="5.2" font-family="Liberation Sans, sans-serif" fill="#000">10<tspan dy="-2.18" font-size="4.42">0</tspan></text>
<text x="437.48" y="183.60" font-size="5.2" font-family="Liberation Sans, sans-serif" fill="#000">10<tspan dy="-2.18" font-size="4.42">1</tspan></text>
<text x="461.86" y="183.60" font-size="5.2" font-family="Liberation Sans, sans-serif" fill="#000">10<tspan dy="-2.18" font-size="4.42">2</tspan></text>
<text x="486.23" y="183.60" font-size="5.2" font-family="Liberation Sans, sans-serif" fill="#000">10<tspan dy="-2.18" font-size="4.42">3</tspan></text>
<text x="510.61" y="183.60" font-size="5.2" font-family="Liberation Sans, sans-serif" fill="#000">10<tspan dy="-2.18" font-size="4.42">4</tspan></text>
<text x="404.2" y="144.6" font-size="5.4" font-family="Liberation Sans, sans-serif" font-weight="bold" text-anchor="middle" fill="#000" transform="rotate(-90 404.2 144.6)" textLength="18.5" lengthAdjust="spacingAndGlyphs">Counts</text>
<text x="460.5" y="189.6" font-size="5.2" font-family="Liberation Sans, sans-serif" font-weight="bold" text-anchor="middle" fill="#000" textLength="13" lengthAdjust="spacingAndGlyphs">CD83</text>
<text x="432.4" y="125.7" font-size="5.2" font-family="Liberation Sans, sans-serif" font-weight="bold" text-anchor="start" fill="#000" textLength="16.4" lengthAdjust="spacingAndGlyphs">Isotype</text>
<text x="437" y="137.6" font-size="5.2" font-family="Liberation Sans, sans-serif" font-weight="bold" text-anchor="start" fill="#000" textLength="35.5" lengthAdjust="spacingAndGlyphs">Control peptide</text>
<text x="462" y="156.6" font-size="5.2" font-family="Liberation Sans, sans-serif" font-weight="bold" text-anchor="start" fill="#000" textLength="20" lengthAdjust="spacingAndGlyphs">PAR2 AP</text>
<line x1="431.70" y1="126.20" x2="429.61" y2="133.50" stroke="#000" stroke-width="0.8"/>
<path d="M428.90 136.00L428.46 133.17L430.77 133.83Z" fill="#000"/>
<line x1="435.70" y1="138.20" x2="435.30" y2="148.40" stroke="#000" stroke-width="0.8"/>
<path d="M435.20 151.00L434.10 148.36L436.50 148.45Z" fill="#000"/>
<line x1="460.70" y1="155.40" x2="453.92" y2="158.05" stroke="#000" stroke-width="0.8"/>
<path d="M451.50 159.00L453.48 156.94L454.36 159.17Z" fill="#000"/>
<path filter="url(#bl)" transform="translate(0 0.5)" d="M98 294h1M57 324h1M123 296h1M103 293h1M135 294h1M96 281h1M115 294h1M129 285h1M54 323h1M112 307h1M54 325h1M55 323h1M50 323h1M150 293h1M46 310h1M113 280h1M135 290h1M61 323h1M143 300h1M141 281h1M34 324h1M54 324h1M49 314h1M128 288h1M136 297h1M95 292h1M129 295h1M127 280h1M134 287h1M50 327h1M127 286h1M57 303h1M107 285h1M126 293h1M58 307h1M43 324h1M64 324h1M120 277h1M137 287h1M135 295h1M41 323h1M120 287h1M86 298h1M45 327h1M80 302h1M121 284h1M51 325h1M117 295h1M61 326h1M55 321h1M107 282h1M49 324h1M45 322h1M55 326h1M53 324h1M43 321h1M120 288h1M123 283h1M39 326h1M59 325h1M143 296h1M54 320h1M141 277h1M134 315h1M61 299h1M58 314h1M62 323h1M40 310h1M51 324h1M104 283h1M55 324h1M120 291h1M45 326h1M120 294h1M119 282h1M55 322h1M110 302h1M66 301h1M57 323h1M93 298h1M113 289h1M37 326h1M45 323h1M144 288h1M74 319h1M24 278h1M118 305h1M93 288h1M121 285h1M113 274h1M83 296h1M108 268h1M52 326h1M71 318h1M138 295h1M122 305h1M49 323h1M45 321h1M87 302h1M136 296h1M134 290h1M60 323h1M77 320h1M131 294h1M45 325h1M48 321h1M122 277h1M94 294h1M130 296h1M41 322h1M56 292h1M137 299h1M42 323h1M46 324h1M140 298h1M135 279h1M44 319h1M37 327h1M91 296h1M60 320h1M37 325h1M111 301h1M108 286h1M42 324h1M111 290h1M150 279h1M111 293h1M134 289h1M51 323h1M56 324h1M139 288h1M48 324h1M77 303h1M143 291h1M77 319h1M125 298h1M121 274h1M122 291h1M50 326h1M134 300h1M127 291h1M50 321h1M138 290h1M109 291h1M60 327h1M56 323h1M69 304h1M143 287h1M64 302h1M109 296h1M76 319h1M88 294h1M123 294h1M31 283h1M38 325h1M71 306h1M139 289h1M135 291h1M57 327h1M138 291h1M108 261h1M127 296h1M77 316h1M61 324h1M132 290h1M124 287h1M142 292h1M120 290h1M135 289h1M127 294h1M59 321h1M125 303h1M39 320h1M124 293h1M112 294h1M56 326h1M105 315h1M136 286h1M125 282h1M43 315h1M45 305h1M53 326h1M129 289h1M43 322h1M122 298h1M143 280h1M145 286h1M134 280h1M35 322h1M127 302h1M67 295h1M112 291h1M147 285h1M52 325h1M122 286h1M106 301h1M109 285h1M44 322h1M138 288h1M128 295h1M138 294h1M111 289h1M131 298h1M134 293h1M81 306h1M133 299h1M122 288h1M124 294h1M128 276h1M75 321h1M56 325h1M119 298h1M137 282h1M48 325h1M58 324h1M136 302h1M52 328h1M43 305h1M38 316h1M118 282h1M57 326h1M112 289h1M44 326h1M44 318h1M136 294h1M33 319h1M107 284h1M130 287h1M86 300h1M108 288h1M132 296h1M52 323h1M54 310h1M33 313h1" stroke="#999" stroke-width="1.0" fill="none"/>
<path filter="url(#bl)" transform="translate(0 0.5)" d="M139 292h1M123 299h1M58 325h1M129 296h1M70 309h1M129 286h1M80 294h1M123 296h1M144 290h1M77 295h1M126 289h1M51 322h1M122 281h1M124 295h1M128 292h1M111 297h1M113 292h1M129 290h1M69 317h1M44 325h1M61 325h1M55 326h1M76 322h1M120 289h1M68 318h1M37 308h1M131 283h1M80 300h1M112 276h1M118 292h1M51 325h1M55 323h1M47 321h1M135 302h1M126 292h1M130 294h1M42 312h1M55 320h1M131 299h1M51 326h1M57 327h1M123 286h1M56 325h1M109 288h1M141 289h1M41 323h1M136 300h1M130 287h1M121 298h1M80 327h1M124 283h1M64 305h1M58 324h1M60 303h1M140 266h1M37 324h1M50 325h1M142 310h1M123 290h1M132 284h1M112 304h1M52 322h1M57 321h1M62 313h1M129 285h1M144 287h1M85 319h1M136 299h1M139 291h1M58 320h1M33 324h1M102 292h1M152 289h1M58 326h1M105 287h1M101 299h1M115 297h1M56 315h1M96 294h1M118 291h1M117 288h1M53 322h1M89 288h1M99 287h1M52 321h1M65 324h1M127 290h1M127 291h1M53 325h1M132 290h1M100 301h1M139 290h1M124 287h1M48 325h1M135 295h1M52 325h1M70 305h1M40 326h1M109 290h1M43 322h1M138 294h1M134 291h1M63 292h1M70 322h1M137 292h1M113 279h1M36 324h1M122 286h1M115 290h1M143 290h1M127 292h1M128 275h1M147 290h1M119 287h1M138 293h1M35 325h1M143 297h1M141 296h1M126 282h1M127 293h1M55 314h1M126 287h1M90 289h1M41 320h1M48 327h1M110 292h1M121 318h1M49 315h1M86 296h1M137 286h1M136 306h1M109 297h1M84 314h1M40 322h1M68 297h1M41 321h1M136 296h1M58 303h1M132 285h1M134 289h1M57 325h1M125 290h1M60 324h1M66 297h1M113 287h1M145 289h1M42 323h1M43 325h1M51 323h1M136 293h1M81 297h1M75 318h1M61 305h1M81 321h1M81 293h1M126 298h1M128 289h1M49 313h1M132 301h1M118 288h1M46 324h1M57 317h1M108 287h1M127 284h1M61 303h1M137 290h1M97 296h1M43 317h1M121 288h1M26 326h1M97 288h1M145 303h1M136 287h1M115 284h1M39 324h1M125 295h1M65 298h1M143 288h1M49 319h1M129 287h1M57 319h1M61 300h1M143 291h1M112 292h1M76 323h1M61 323h1M53 321h1M74 323h1M118 293h1M138 285h1M130 291h1M63 324h1M100 290h1M72 307h1M123 271h1M137 288h1M60 325h1M125 275h1M120 295h1M128 294h1M119 298h1M122 283h1M45 323h1M138 289h1M40 327h1M100 298h1M52 324h1M100 302h1M30 326h1M132 292h1M46 326h1M130 290h1M106 282h1M89 306h1M96 305h1M145 302h1M60 323h1M48 287h1M143 296h1M118 316h1M126 293h1M138 290h1M95 287h1M111 282h1M113 313h1M126 285h1M111 293h1M104 268h1M40 303h1M134 290h1M149 285h1M121 292h1M140 263h1M54 312h1M54 308h1M127 298h1M121 286h1M143 283h1M107 276h1M133 293h1M132 294h1M31 325h1M133 291h1M135 292h1M127 287h1M53 324h1M106 301h1M127 294h1M127 272h1M60 326h1M132 291h1M85 280h1M130 309h1M109 281h1M55 324h1M134 287h1M100 283h1M60 310h1M38 327h1M38 325h1M49 312h1M131 290h1M115 292h1M126 283h1M120 292h1M65 321h1M49 324h1M129 289h1M116 295h1M141 287h1M95 305h1M113 278h1M75 312h1M54 324h1M59 305h1M45 322h1M27 289h1M131 287h1M55 327h1M85 303h1M42 326h1M56 324h1M57 320h1M125 300h1M114 296h1M103 278h1M140 264h1M132 295h1M50 307h1M63 320h1M76 318h1M116 298h1M127 300h1M54 327h1M44 311h1M74 319h1M58 300h1M103 290h1M58 323h1M80 303h1M125 291h1M80 306h1M53 326h1M27 292h1M75 304h1M70 320h1M55 310h1M119 288h1M122 287h1M53 308h1M46 323h1M117 287h1M49 323h1M102 303h1M125 260h1M113 284h1M59 313h1M44 319h1M43 304h1M117 292h1M119 294h1M57 294h1M120 283h1M104 294h1M46 327h1M46 325h1M138 286h1M50 326h1M80 298h1M127 295h1M42 305h1M115 283h1M45 312h1M84 286h1M61 327h1M130 292h1M57 324h1M66 309h1M79 291h1M121 285h1M131 280h1M57 322h1M94 290h1M129 302h1M134 285h1M93 279h1M56 321h1M56 323h1M125 293h1M56 326h1M88 302h1M53 323h1M44 323h1M131 297h1M131 276h1M42 327h1M141 290h1M66 321h1M54 325h1M47 324h1M102 282h1M139 285h1M149 273h1M133 302h1M120 304h1M39 319h1M87 296h1M133 301h1M109 294h1M48 321h1M136 290h1M52 326h1M120 297h1M134 284h1M128 297h1M51 324h1M60 306h1M54 321h1M49 325h1M127 299h1M119 302h1M52 300h1M55 325h1M108 279h1M133 289h1M136 298h1M47 326h1M50 321h1M116 289h1M115 289h1M108 281h1M123 298h1M65 320h1M112 286h1M54 322h1M128 301h1M59 325h1M69 319h1M92 298h1M44 322h1M66 313h1M128 291h1M86 286h1M70 303h1M127 286h1M67 294h1M115 311h1M66 320h1M80 295h1M147 303h1M55 309h1M139 282h1M143 310h1M121 296h1M43 312h1M86 297h1M82 302h1M82 289h1M117 276h1M120 287h1M137 284h1M97 290h1M141 282h1M120 282h1M46 286h1M113 300h1M142 289h1M122 293h1M50 324h1M132 299h1M135 286h1M114 306h1M62 304h1M103 277h1M121 287h1" stroke="#555" stroke-width="1.0" fill="none"/>
<path filter="url(#bl)" transform="translate(0 0.5)" d="M130 293h1M52 324h1M50 326h1M123 291h1M127 291h1M141 287h1M41 323h1M78 304h1M52 325h1M61 322h1M68 310h1M68 289h1M62 324h1M103 290h1M124 288h1M40 323h1M53 325h1M136 296h1M65 296h1M58 313h1M54 303h1M50 318h1M143 282h1M136 288h1M80 321h1M48 325h1M107 289h1M49 305h1M125 295h1M51 307h1M60 325h1M51 327h1M61 298h1M121 303h1M127 286h1M52 320h1M77 307h1M70 320h1M70 317h1M131 281h1M108 285h1M125 283h1M113 272h1M55 327h1M49 324h1M131 282h1M73 321h1M69 298h1M127 292h1M122 296h1M53 323h1M128 287h1M124 300h1M116 306h1M51 320h1M59 325h1M38 324h1M126 297h1M52 326h1M54 326h1M74 300h1M60 296h1M38 325h1M119 289h1M120 291h1M132 287h1M124 298h1M137 280h1M141 296h1M74 299h1M119 285h1M126 283h1M70 265h1M56 324h1M144 284h1M123 289h1M41 317h1M122 289h1M126 288h1M115 281h1M126 266h1M103 272h1M125 290h1M82 303h1M50 324h1M114 292h1M49 326h1M142 295h1M129 291h1M92 294h1M127 298h1M49 323h1M125 304h1M79 318h1M45 320h1M81 287h1M125 293h1M120 268h1M111 301h1M136 300h1M87 289h1M143 294h1M57 325h1M81 295h1M91 286h1M133 288h1M112 304h1M60 321h1M37 318h1M35 318h1M130 288h1M109 286h1M116 275h1M125 292h1M78 317h1M135 298h1M125 282h1M110 286h1M142 288h1M99 299h1M137 296h1M143 289h1M49 321h1M47 327h1M58 320h1M119 275h1M55 325h1M121 294h1M146 289h1M47 325h1M103 302h1M145 289h1M39 327h1M141 294h1M113 289h1M119 294h1M105 306h1M135 301h1M86 261h1M47 324h1M109 277h1M130 279h1M134 264h1M104 287h1M93 262h1M40 324h1M50 327h1M118 306h1M77 315h1M82 322h1M100 289h1M137 288h1M126 296h1M48 326h1M56 323h1M142 292h1M149 273h1M51 323h1M60 299h1M51 305h1M80 298h1M127 283h1M114 295h1M51 325h1M72 319h1M48 322h1M116 281h1M48 324h1M88 294h1M68 320h1M70 318h1M126 299h1M103 284h1M113 284h1M113 292h1M66 321h1M128 292h1M90 291h1M105 281h1M124 290h1M102 278h1M139 292h1M85 292h1M102 287h1M62 320h1M95 283h1M42 327h1M150 298h1M68 291h1M51 324h1M111 293h1M113 275h1M127 288h1M98 302h1M39 319h1M45 318h1M43 319h1M74 298h1M128 297h1M126 269h1M42 320h1M112 289h1M101 287h1M69 303h1M97 298h1M57 320h1M133 290h1M81 292h1M119 287h1M47 321h1M73 319h1M110 293h1M75 292h1M117 296h1M118 298h1M133 292h1M90 288h1M117 288h1M133 294h1M141 285h1M141 276h1M30 272h1M126 289h1M54 327h1M141 286h1M55 322h1M75 307h1M69 302h1M44 323h1M109 295h1M47 319h1M116 289h1M77 295h1M59 326h1M76 297h1M125 286h1M90 279h1M82 281h1M120 288h1M83 309h1M138 296h1M83 287h1M143 288h1M92 288h1M53 326h1M133 299h1M98 304h1M54 325h1M94 296h1M130 295h1M69 321h1M99 300h1M78 302h1M124 292h1M79 305h1M56 325h1M53 296h1M68 312h1M44 327h1M108 292h1M57 318h1M140 290h1M109 288h1M85 293h1M103 282h1M62 315h1M94 289h1M110 294h1M73 310h1M55 324h1M141 291h1M132 286h1M125 294h1M43 323h1M128 298h1M125 289h1M65 318h1M33 322h1M128 291h1M130 292h1M41 319h1M135 289h1M77 310h1M71 305h1M45 322h1M110 285h1M141 292h1M116 292h1M139 288h1M134 290h1M131 296h1M100 291h1M45 313h1M120 294h1M109 282h1M132 294h1M100 301h1M129 284h1M138 295h1M67 294h1M140 285h1M122 290h1M115 297h1M88 300h1M126 294h1M133 287h1M134 286h1M132 300h1M42 314h1M48 320h1M129 281h1M56 326h1M48 316h1M138 284h1M87 307h1M112 274h1M129 300h1M57 321h1M60 327h1M136 292h1M117 289h1M143 281h1M120 277h1M29 293h1M138 277h1M55 323h1M58 325h1M113 301h1M149 294h1M100 271h1M116 286h1M92 296h1M146 285h1M58 324h1M71 319h1M49 322h1M126 298h1M141 295h1M61 325h1M134 301h1M128 281h1M134 291h1M131 285h1M97 290h1M119 281h1M107 293h1M36 315h1M128 280h1M73 302h1M129 297h1M140 302h1M116 293h1M99 285h1M147 296h1M124 299h1M41 322h1M150 297h1M65 307h1M96 288h1M149 271h1M79 296h1M58 323h1M49 325h1M121 296h1M63 303h1M75 317h1M115 284h1M134 293h1M57 322h1M136 297h1M43 326h1M141 284h1M126 278h1M138 287h1M131 297h1M106 302h1M79 297h1M92 289h1M57 323h1M139 300h1M145 274h1M117 290h1M106 278h1M68 295h1M88 286h1M50 325h1M55 316h1M63 310h1M51 304h1M116 299h1M110 302h1M106 290h1M127 294h1M135 291h1M61 307h1M46 323h1M66 319h1M52 323h1M59 311h1M67 306h1M95 323h1M57 324h1M139 286h1M111 286h1M46 313h1M125 301h1M46 324h1M76 320h1M104 290h1M109 274h1M34 326h1M62 319h1M136 293h1M120 296h1M53 324h1M80 287h1M61 315h1M48 321h1M147 267h1M147 293h1M147 288h1M89 298h1M118 275h1M45 308h1M60 312h1M82 292h1M135 281h1M39 306h1M128 294h1M82 320h1M48 323h1M76 296h1M37 327h1M135 259h1M132 277h1M102 277h1M114 290h1M137 285h1M144 308h1M98 283h1M145 301h1M127 287h1M97 291h1M97 305h1M132 283h1M110 284h1M107 295h1M39 265h1M81 290h1M102 279h1M117 297h1M47 322h1M50 321h1M37 315h1M98 296h1M83 319h1M66 324h1M127 282h1M131 299h1M54 323h1M53 268h1M143 273h1M137 282h1M57 313h1M60 320h1M42 313h1M51 318h1M128 286h1M55 326h1M39 323h1M129 283h1M61 324h1M120 282h1M57 326h1M119 297h1M65 299h1M148 291h1M56 306h1M134 280h1M127 297h1M68 293h1M74 313h1M52 312h1M114 287h1M143 307h1M82 290h1M110 283h1M121 289h1M65 319h1M146 294h1M132 293h1M142 283h1M119 296h1M135 299h1M133 282h1M145 281h1M137 291h1M129 298h1M63 300h1M76 295h1M63 318h1M121 297h1M138 293h1M53 327h1M44 317h1M54 324h1M129 293h1M65 324h1M123 288h1M34 319h1M56 321h1M125 284h1M118 277h1M149 283h1M42 310h1M103 287h1M32 326h1M135 286h1M54 322h1M121 305h1M77 319h1M86 295h1M135 275h1M57 312h1M143 297h1M131 292h1M77 292h1M61 319h1M121 285h1M143 292h1M138 288h1M38 323h1M104 284h1M44 324h1M140 270h1M109 283h1M60 311h1M40 325h1M144 279h1M125 285h1M117 276h1M119 276h1M107 301h1M34 273h1M133 297h1M43 324h1M116 290h1M142 285h1M139 293h1M136 281h1M143 290h1M84 323h1M86 290h1M140 292h1M63 315h1M39 302h1M103 289h1M106 283h1M117 303h1M105 305h1M51 311h1M82 296h1M149 289h1M79 307h1M68 317h1M81 320h1M42 324h1M114 310h1M40 328h1M119 288h1M128 289h1M49 320h1M143 304h1M38 326h1M98 312h1M32 261h1M120 289h1M82 293h1M44 325h1M137 289h1M49 315h1M113 290h1M39 325h1M57 308h1M117 298h1M73 296h1M89 295h1M109 280h1M131 294h1M104 281h1M120 284h1M118 279h1M148 293h1M138 276h1M112 286h1M117 286h1M75 304h1M126 293h1M133 302h1M54 311h1M147 294h1M123 300h1M117 284h1M104 306h1M115 286h1M123 286h1M122 285h1M59 319h1M124 295h1M47 326h1M124 294h1M146 290h1M140 289h1M144 290h1M130 287h1M72 300h1M45 326h1M148 300h1M103 274h1M137 281h1M103 286h1M33 312h1M86 294h1M109 304h1M126 285h1M77 300h1M142 287h1M42 326h1M53 322h1M124 291h1M46 317h1M130 291h1M134 292h1M46 314h1M67 312h1M134 295h1M78 301h1M149 321h1M127 293h1M89 304h1M50 312h1M55 320h1M133 304h1M76 318h1M118 266h1M45 324h1M55 321h1M51 313h1M115 303h1M123 298h1M133 293h1M103 291h1M47 323h1M55 262h1M115 304h1M100 285h1M131 284h1M62 299h1M142 291h1M110 292h1M127 284h1M133 296h1M127 270h1M139 291h1M44 322h1M107 309h1M43 327h1M147 297h1M138 290h1M77 322h1M133 291h1M38 318h1M99 298h1M119 290h1M91 309h1M106 289h1M146 291h1M132 299h1M74 304h1M78 300h1M59 324h1M137 292h1M99 279h1M90 290h1M91 303h1M103 313h1M128 275h1M65 306h1M63 323h1M136 274h1M60 310h1M128 290h1M103 297h1M138 282h1M136 290h1M149 287h1M87 287h1M106 287h1M85 310h1M58 322h1M70 326h1M126 286h1M91 297h1M121 290h1M41 321h1M133 283h1M105 313h1M63 279h1M70 322h1M104 316h1M62 321h1M131 293h1M128 277h1M95 300h1M117 270h1M84 295h1M56 308h1M144 292h1M135 287h1M123 284h1M85 294h1M35 322h1M130 305h1M46 321h1M132 296h1M103 280h1M82 305h1M79 304h1M122 287h1M112 281h1M125 273h1M72 323h1M118 292h1M118 291h1M41 314h1M131 291h1M72 324h1M108 284h1M132 301h1M48 327h1" stroke="#111" stroke-width="1.0" fill="none"/>
<rect x="16.4" y="257.5" width="137.4" height="71.89999999999998" fill="none" stroke="#000" stroke-width="1.1"/>
<path d="M16.4 328.5L14.2 328.5M16.4 325.0L15.1 325.0M16.4 321.5L15.1 321.5M16.4 318.0L15.1 318.0M16.4 314.5L14.2 314.5M16.4 311.0L15.1 311.0M16.4 307.5L15.1 307.5M16.4 304.0L15.1 304.0M16.4 300.5L14.2 300.5M16.4 297.0L15.1 297.0M16.4 293.5L15.1 293.5M16.4 290.0L15.1 290.0M16.4 286.5L14.2 286.5M16.4 283.0L15.1 283.0M16.4 279.5L15.1 279.5M16.4 276.0L15.1 276.0M16.4 272.5L14.2 272.5M16.4 269.0L15.1 269.0M16.4 265.5L15.1 265.5M16.4 262.0L15.1 262.0M16.4 258.5L14.2 258.5" stroke="#000" stroke-width="0.8" fill="none"/>
<path d="M18.0 329.4L18.0 331.6M24.7 329.4L24.7 330.7M31.3 329.4L31.3 330.7M38.0 329.4L38.0 330.7M44.7 329.4L44.7 331.6M51.3 329.4L51.3 330.7M58.0 329.4L58.0 330.7M64.7 329.4L64.7 330.7M71.3 329.4L71.3 331.6M78.0 329.4L78.0 330.7M84.7 329.4L84.7 330.7M91.3 329.4L91.3 330.7M98.0 329.4L98.0 331.6M104.6 329.4L104.6 330.7M111.3 329.4L111.3 330.7M118.0 329.4L118.0 330.7M124.6 329.4L124.6 331.6M131.3 329.4L131.3 330.7M138.0 329.4L138.0 330.7M144.6 329.4L144.6 330.7M151.3 329.4L151.3 331.6" stroke="#000" stroke-width="0.8" fill="none"/>
<path d="M88.4 294.7 L95.2 278.6 L115.5 266.0 L141.7 262.6 L149.3 278.6 L149.3 298.0 L132.4 311.6 L95.2 314.1 Z" fill="none" stroke="#000" stroke-width="1.1" stroke-linejoin="round"/>
<text x="88.4" y="277.2" font-size="7.4" font-family="Liberation Sans, sans-serif" text-anchor="start" fill="#000" stroke="#000" stroke-width="0.2">R1</text>
<text x="18.0" y="338.2" font-size="5.4" font-family="Liberation Sans, sans-serif" text-anchor="middle" fill="#000">0</text>
<text x="44.660000000000004" y="338.2" font-size="5.4" font-family="Liberation Sans, sans-serif" text-anchor="middle" fill="#000">200</text>
<text x="71.32000000000001" y="338.2" font-size="5.4" font-family="Liberation Sans, sans-serif" text-anchor="middle" fill="#000">400</text>
<text x="97.98" y="338.2" font-size="5.4" font-family="Liberation Sans, sans-serif" text-anchor="middle" fill="#000">600</text>
<text x="124.64000000000001" y="338.2" font-size="5.4" font-family="Liberation Sans, sans-serif" text-anchor="middle" fill="#000">800</text>
<text x="151.3" y="338.2" font-size="5.4" font-family="Liberation Sans, sans-serif" text-anchor="middle" fill="#000">1000</text>
<text x="84.8" y="343.2" font-size="5.6" font-family="Liberation Sans, sans-serif" text-anchor="middle" fill="#000" textLength="27.5" lengthAdjust="spacingAndGlyphs">FSC-Height</text>
<text x="13.6" y="328.5" font-size="5.6" font-family="Liberation Sans, sans-serif" text-anchor="middle" fill="#000" transform="rotate(-90 13.6 328.5)">0</text>
<text x="13.6" y="314.5" font-size="5.6" font-family="Liberation Sans, sans-serif" text-anchor="middle" fill="#000" transform="rotate(-90 13.6 314.5)">200</text>
<text x="13.6" y="300.5" font-size="5.6" font-family="Liberation Sans, sans-serif" text-anchor="middle" fill="#000" transform="rotate(-90 13.6 300.5)">400</text>
<text x="13.6" y="286.5" font-size="5.6" font-family="Liberation Sans, sans-serif" text-anchor="middle" fill="#000" transform="rotate(-90 13.6 286.5)">600</text>
<text x="13.6" y="272.5" font-size="5.6" font-family="Liberation Sans, sans-serif" text-anchor="middle" fill="#000" transform="rotate(-90 13.6 272.5)">800</text>
<text x="13.6" y="258.5" font-size="5.6" font-family="Liberation Sans, sans-serif" text-anchor="middle" fill="#000" transform="rotate(-90 13.6 258.5)">1000</text>
<text x="5.6" y="295.4" font-size="5.6" font-family="Liberation Sans, sans-serif" font-weight="bold" text-anchor="middle" fill="#000" transform="rotate(-90 5.6 295.4)" textLength="26" lengthAdjust="spacingAndGlyphs">SSC-Height</text>
<path d="M186.8 323.5 L191.7 317.2 L195.7 305.3 L198.6 289.5 L200.6 284.6 L202.6 275.3 L204.0 282.6 L205.6 282.0 L207.5 285.6 L209.5 295.4 L211.9 309.3 L214.5 311.3 L217.4 309.3 L220.4 307.3 L223.0 315.2 L226.3 319.2 L231.2 320.8 L235.2 322.1 L238.0 322.5 L240.0 321.0 L241.5 322.5 L245.0 323.5 Z" fill="#5c5c5c" stroke="#333" stroke-width="0.5"/>
<line x1="184.60" y1="323.50" x2="184.60" y2="299.00" stroke="#000" stroke-width="1.3"/>
<path d="M184.5 300.0 L185.8 320.0 L188.8 313.0 L191.3 301.4 L192.7 294.5 L194.3 286.2 L195.7 291.5 L197.3 290.5 L199.2 296.4 L201.6 303.4 L204.6 311.3 L207.5 318.2 L211.5 322.1 L217.4 323.2 L279.0 323.2" fill="none" stroke="#000" stroke-width="1.3" stroke-linejoin="round"/>
<rect x="184" y="257.4" width="95.60000000000002" height="66.10000000000002" fill="none" stroke="#000" stroke-width="1.1"/>
<path d="M184.0 323.5L184.0 325.7M191.2 323.5L191.2 324.9M195.4 323.5L195.4 324.9M198.4 323.5L198.4 324.9M200.7 323.5L200.7 324.9M202.6 323.5L202.6 324.9M204.2 323.5L204.2 324.9M205.6 323.5L205.6 324.9M206.8 323.5L206.8 324.9M207.9 323.5L207.9 325.7M215.1 323.5L215.1 324.9M219.3 323.5L219.3 324.9M222.3 323.5L222.3 324.9M224.6 323.5L224.6 324.9M226.5 323.5L226.5 324.9M228.1 323.5L228.1 324.9M229.5 323.5L229.5 324.9M230.7 323.5L230.7 324.9M231.8 323.5L231.8 325.7M239.0 323.5L239.0 324.9M243.2 323.5L243.2 324.9M246.2 323.5L246.2 324.9M248.5 323.5L248.5 324.9M250.4 323.5L250.4 324.9M252.0 323.5L252.0 324.9M253.4 323.5L253.4 324.9M254.6 323.5L254.6 324.9M255.7 323.5L255.7 325.7M262.9 323.5L262.9 324.9M267.1 323.5L267.1 324.9M270.1 323.5L270.1 324.9M272.4 323.5L272.4 324.9M274.3 323.5L274.3 324.9M275.9 323.5L275.9 324.9M277.3 323.5L277.3 324.9M278.5 323.5L278.5 324.9M279.6 323.5L279.6 325.7" stroke="#000" stroke-width="0.8" fill="none"/>
<path d="M184.0 323.5L181.8 323.5M184.0 321.6L182.7 321.6M184.0 319.7L182.7 319.7M184.0 317.8L182.7 317.8M184.0 315.9L182.7 315.9M184.0 314.1L181.8 314.1M184.0 312.2L182.7 312.2M184.0 310.3L182.7 310.3M184.0 308.4L182.7 308.4M184.0 306.5L182.7 306.5M184.0 304.6L181.8 304.6M184.0 302.7L182.7 302.7M184.0 300.8L182.7 300.8M184.0 298.9L182.7 298.9M184.0 297.1L182.7 297.1M184.0 295.2L181.8 295.2M184.0 293.3L182.7 293.3M184.0 291.4L182.7 291.4M184.0 289.5L182.7 289.5M184.0 287.6L182.7 287.6M184.0 285.7L181.8 285.7M184.0 283.8L182.7 283.8M184.0 282.0L182.7 282.0M184.0 280.1L182.7 280.1M184.0 278.2L182.7 278.2M184.0 276.3L181.8 276.3M184.0 274.4L182.7 274.4M184.0 272.5L182.7 272.5M184.0 270.6L182.7 270.6M184.0 268.7L182.7 268.7M184.0 266.8L181.8 266.8M184.0 265.0L182.7 265.0M184.0 263.1L182.7 263.1M184.0 261.2L182.7 261.2M184.0 259.3L182.7 259.3M184.0 257.4L181.8 257.4" stroke="#000" stroke-width="0.8" fill="none"/>
<text x="178.5" y="323.5" font-size="5.5" font-family="Liberation Sans, sans-serif" font-weight="bold" text-anchor="middle" fill="#000" transform="rotate(-90 178.5 323.5)">0</text>
<text x="178.5" y="314.0571428571429" font-size="5.5" font-family="Liberation Sans, sans-serif" font-weight="bold" text-anchor="middle" fill="#000" transform="rotate(-90 178.5 314.0571428571429)">10</text>
<text x="178.5" y="304.6142857142857" font-size="5.5" font-family="Liberation Sans, sans-serif" font-weight="bold" text-anchor="middle" fill="#000" transform="rotate(-90 178.5 304.6142857142857)">20</text>
<text x="178.5" y="295.1714285714286" font-size="5.5" font-family="Liberation Sans, sans-serif" font-weight="bold" text-anchor="middle" fill="#000" transform="rotate(-90 178.5 295.1714285714286)">30</text>
<text x="178.5" y="285.7285714285714" font-size="5.5" font-family="Liberation Sans, sans-serif" font-weight="bold" text-anchor="middle" fill="#000" transform="rotate(-90 178.5 285.7285714285714)">40</text>
<text x="178.5" y="276.2857142857143" font-size="5.5" font-family="Liberation Sans, sans-serif" font-weight="bold" text-anchor="middle" fill="#000" transform="rotate(-90 178.5 276.2857142857143)">50</text>
<text x="178.5" y="266.8428571428571" font-size="5.5" font-family="Liberation Sans, sans-serif" font-weight="bold" text-anchor="middle" fill="#000" transform="rotate(-90 178.5 266.8428571428571)">60</text>
<text x="178.5" y="257.4" font-size="5.5" font-family="Liberation Sans, sans-serif" font-weight="bold" text-anchor="middle" fill="#000" transform="rotate(-90 178.5 257.4)">70</text>
<text x="181.11" y="333.10" font-size="5.2" font-family="Liberation Sans, sans-serif" fill="#000">10<tspan dy="-2.18" font-size="4.42">0</tspan></text>
<text x="205.01" y="333.10" font-size="5.2" font-family="Liberation Sans, sans-serif" fill="#000">10<tspan dy="-2.18" font-size="4.42">1</tspan></text>
<text x="228.91" y="333.10" font-size="5.2" font-family="Liberation Sans, sans-serif" fill="#000">10<tspan dy="-2.18" font-size="4.42">2</tspan></text>
<text x="252.81" y="333.10" font-size="5.2" font-family="Liberation Sans, sans-serif" fill="#000">10<tspan dy="-2.18" font-size="4.42">3</tspan></text>
<text x="276.71" y="333.10" font-size="5.2" font-family="Liberation Sans, sans-serif" fill="#000">10<tspan dy="-2.18" font-size="4.42">4</tspan></text>
<text x="172.2" y="291.95" font-size="5.4" font-family="Liberation Sans, sans-serif" font-weight="bold" text-anchor="middle" fill="#000" transform="rotate(-90 172.2 291.95)" textLength="18.5" lengthAdjust="spacingAndGlyphs">Counts</text>
<text x="214.6" y="253.8" font-size="9.4" font-family="Liberation Sans, sans-serif" font-weight="bold" text-anchor="start" fill="#000" textLength="37" lengthAdjust="spacingAndGlyphs">PAR2-AP</text>
<path d="M311.8 323.0 L315.7 319.2 L318.7 309.3 L321.7 300.4 L324.2 294.5 L326.6 292.5 L329.6 293.9 L331.6 298.4 L334.5 306.3 L337.5 310.9 L341.4 313.2 L345.4 316.2 L350.3 319.2 L356.3 320.2 L366.1 320.2 L373.0 320.7 L374.5 323.0 Z" fill="#5c5c5c" stroke="#333" stroke-width="0.5"/>
<line x1="308.30" y1="323.00" x2="308.30" y2="291.50" stroke="#000" stroke-width="1.3"/>
<path d="M308.8 317.2 L311.8 312.3 L314.8 304.3 L317.1 297.4 L318.7 296.0 L320.7 297.4 L322.7 302.4 L324.6 309.3 L327.6 316.2 L330.6 320.7 L334.5 322.7 L340.0 322.7 L402.0 322.7" fill="none" stroke="#000" stroke-width="1.3" stroke-linejoin="round"/>
<rect x="307.7" y="256.5" width="94.90000000000003" height="66.5" fill="none" stroke="#000" stroke-width="1.1"/>
<path d="M307.7 323.0L307.7 325.2M314.8 323.0L314.8 324.4M319.0 323.0L319.0 324.4M322.0 323.0L322.0 324.4M324.3 323.0L324.3 324.4M326.2 323.0L326.2 324.4M327.7 323.0L327.7 324.4M329.1 323.0L329.1 324.4M330.3 323.0L330.3 324.4M331.4 323.0L331.4 325.2M338.6 323.0L338.6 324.4M342.7 323.0L342.7 324.4M345.7 323.0L345.7 324.4M348.0 323.0L348.0 324.4M349.9 323.0L349.9 324.4M351.5 323.0L351.5 324.4M352.9 323.0L352.9 324.4M354.1 323.0L354.1 324.4M355.1 323.0L355.1 325.2M362.3 323.0L362.3 324.4M366.5 323.0L366.5 324.4M369.4 323.0L369.4 324.4M371.7 323.0L371.7 324.4M373.6 323.0L373.6 324.4M375.2 323.0L375.2 324.4M376.6 323.0L376.6 324.4M377.8 323.0L377.8 324.4M378.9 323.0L378.9 325.2M386.0 323.0L386.0 324.4M390.2 323.0L390.2 324.4M393.2 323.0L393.2 324.4M395.5 323.0L395.5 324.4M397.3 323.0L397.3 324.4M398.9 323.0L398.9 324.4M400.3 323.0L400.3 324.4M401.5 323.0L401.5 324.4M402.6 323.0L402.6 325.2" stroke="#000" stroke-width="0.8" fill="none"/>
<path d="M307.7 323.0L305.5 323.0M307.7 321.1L306.4 321.1M307.7 319.2L306.4 319.2M307.7 317.3L306.4 317.3M307.7 315.4L306.4 315.4M307.7 313.5L305.5 313.5M307.7 311.6L306.4 311.6M307.7 309.7L306.4 309.7M307.7 307.8L306.4 307.8M307.7 305.9L306.4 305.9M307.7 304.0L305.5 304.0M307.7 302.1L306.4 302.1M307.7 300.2L306.4 300.2M307.7 298.3L306.4 298.3M307.7 296.4L306.4 296.4M307.7 294.5L305.5 294.5M307.7 292.6L306.4 292.6M307.7 290.7L306.4 290.7M307.7 288.8L306.4 288.8M307.7 286.9L306.4 286.9M307.7 285.0L305.5 285.0M307.7 283.1L306.4 283.1M307.7 281.2L306.4 281.2M307.7 279.3L306.4 279.3M307.7 277.4L306.4 277.4M307.7 275.5L305.5 275.5M307.7 273.6L306.4 273.6M307.7 271.7L306.4 271.7M307.7 269.8L306.4 269.8M307.7 267.9L306.4 267.9M307.7 266.0L305.5 266.0M307.7 264.1L306.4 264.1M307.7 262.2L306.4 262.2M307.7 260.3L306.4 260.3M307.7 258.4L306.4 258.4M307.7 256.5L305.5 256.5" stroke="#000" stroke-width="0.8" fill="none"/>
<text x="302.2" y="323.0" font-size="5.5" font-family="Liberation Sans, sans-serif" font-weight="bold" text-anchor="middle" fill="#000" transform="rotate(-90 302.2 323.0)">0</text>
<text x="302.2" y="313.5" font-size="5.5" font-family="Liberation Sans, sans-serif" font-weight="bold" text-anchor="middle" fill="#000" transform="rotate(-90 302.2 313.5)">10</text>
<text x="302.2" y="304.0" font-size="5.5" font-family="Liberation Sans, sans-serif" font-weight="bold" text-anchor="middle" fill="#000" transform="rotate(-90 302.2 304.0)">20</text>
<text x="302.2" y="294.5" font-size="5.5" font-family="Liberation Sans, sans-serif" font-weight="bold" text-anchor="middle" fill="#000" transform="rotate(-90 302.2 294.5)">30</text>
<text x="302.2" y="285.0" font-size="5.5" font-family="Liberation Sans, sans-serif" font-weight="bold" text-anchor="middle" fill="#000" transform="rotate(-90 302.2 285.0)">40</text>
<text x="302.2" y="275.5" font-size="5.5" font-family="Liberation Sans, sans-serif" font-weight="bold" text-anchor="middle" fill="#000" transform="rotate(-90 302.2 275.5)">50</text>
<text x="302.2" y="266.0" font-size="5.5" font-family="Liberation Sans, sans-serif" font-weight="bold" text-anchor="middle" fill="#000" transform="rotate(-90 302.2 266.0)">60</text>
<text x="302.2" y="256.5" font-size="5.5" font-family="Liberation Sans, sans-serif" font-weight="bold" text-anchor="middle" fill="#000" transform="rotate(-90 302.2 256.5)">70</text>
<text x="304.81" y="332.60" font-size="5.2" font-family="Liberation Sans, sans-serif" fill="#000">10<tspan dy="-2.18" font-size="4.42">0</tspan></text>
<text x="328.53" y="332.60" font-size="5.2" font-family="Liberation Sans, sans-serif" fill="#000">10<tspan dy="-2.18" font-size="4.42">1</tspan></text>
<text x="352.26" y="332.60" font-size="5.2" font-family="Liberation Sans, sans-serif" fill="#000">10<tspan dy="-2.18" font-size="4.42">2</tspan></text>
<text x="375.98" y="332.60" font-size="5.2" font-family="Liberation Sans, sans-serif" fill="#000">10<tspan dy="-2.18" font-size="4.42">3</tspan></text>
<text x="399.71" y="332.60" font-size="5.2" font-family="Liberation Sans, sans-serif" fill="#000">10<tspan dy="-2.18" font-size="4.42">4</tspan></text>
<text x="295.9" y="291.25" font-size="5.4" font-family="Liberation Sans, sans-serif" font-weight="bold" text-anchor="middle" fill="#000" transform="rotate(-90 295.9 291.25)" textLength="18.5" lengthAdjust="spacingAndGlyphs">Counts</text>
<text x="324.1" y="253.7" font-size="9.4" font-family="Liberation Sans, sans-serif" font-weight="bold" text-anchor="start" fill="#000" textLength="73.4" lengthAdjust="spacingAndGlyphs">U73343+PAR2 AP</text>
<path d="M426.8 323.0 L429.8 318.2 L432.7 311.3 L434.7 305.3 L436.7 298.4 L438.0 293.1 L439.2 297.4 L440.6 299.4 L442.0 297.0 L443.2 296.4 L444.6 301.4 L446.6 309.3 L449.5 315.2 L452.5 319.2 L456.4 319.2 L457.4 323.0 Z" fill="#5c5c5c" stroke="#333" stroke-width="0.5"/>
<line x1="423.30" y1="323.10" x2="423.30" y2="286.50" stroke="#000" stroke-width="1.3"/>
<path d="M423.4 315.2 L425.8 310.3 L428.2 302.4 L429.8 297.4 L431.3 292.5 L432.7 298.4 L434.1 295.5 L435.7 301.4 L437.7 308.3 L439.6 313.2 L441.6 318.2 L444.6 320.7 L448.5 322.7 L515.0 322.7" fill="none" stroke="#000" stroke-width="1.3" stroke-linejoin="round"/>
<rect x="422.7" y="257.9" width="92.59999999999997" height="65.20000000000005" fill="none" stroke="#000" stroke-width="1.1"/>
<path d="M422.7 323.1L422.7 325.3M429.7 323.1L429.7 324.5M433.7 323.1L433.7 324.5M436.6 323.1L436.6 324.5M438.9 323.1L438.9 324.5M440.7 323.1L440.7 324.5M442.3 323.1L442.3 324.5M443.6 323.1L443.6 324.5M444.8 323.1L444.8 324.5M445.8 323.1L445.8 325.3M452.8 323.1L452.8 324.5M456.9 323.1L456.9 324.5M459.8 323.1L459.8 324.5M462.0 323.1L462.0 324.5M463.9 323.1L463.9 324.5M465.4 323.1L465.4 324.5M466.8 323.1L466.8 324.5M467.9 323.1L467.9 324.5M469.0 323.1L469.0 325.3M476.0 323.1L476.0 324.5M480.0 323.1L480.0 324.5M482.9 323.1L482.9 324.5M485.2 323.1L485.2 324.5M487.0 323.1L487.0 324.5M488.6 323.1L488.6 324.5M489.9 323.1L489.9 324.5M491.1 323.1L491.1 324.5M492.1 323.1L492.1 325.3M499.1 323.1L499.1 324.5M503.2 323.1L503.2 324.5M506.1 323.1L506.1 324.5M508.3 323.1L508.3 324.5M510.2 323.1L510.2 324.5M511.7 323.1L511.7 324.5M513.1 323.1L513.1 324.5M514.2 323.1L514.2 324.5M515.3 323.1L515.3 325.3" stroke="#000" stroke-width="0.8" fill="none"/>
<path d="M422.7 323.1L420.5 323.1M422.7 321.2L421.4 321.2M422.7 319.4L421.4 319.4M422.7 317.5L421.4 317.5M422.7 315.6L421.4 315.6M422.7 313.8L420.5 313.8M422.7 311.9L421.4 311.9M422.7 310.1L421.4 310.1M422.7 308.2L421.4 308.2M422.7 306.3L421.4 306.3M422.7 304.5L420.5 304.5M422.7 302.6L421.4 302.6M422.7 300.7L421.4 300.7M422.7 298.9L421.4 298.9M422.7 297.0L421.4 297.0M422.7 295.2L420.5 295.2M422.7 293.3L421.4 293.3M422.7 291.4L421.4 291.4M422.7 289.6L421.4 289.6M422.7 287.7L421.4 287.7M422.7 285.8L420.5 285.8M422.7 284.0L421.4 284.0M422.7 282.1L421.4 282.1M422.7 280.3L421.4 280.3M422.7 278.4L421.4 278.4M422.7 276.5L420.5 276.5M422.7 274.7L421.4 274.7M422.7 272.8L421.4 272.8M422.7 270.9L421.4 270.9M422.7 269.1L421.4 269.1M422.7 267.2L420.5 267.2M422.7 265.4L421.4 265.4M422.7 263.5L421.4 263.5M422.7 261.6L421.4 261.6M422.7 259.8L421.4 259.8M422.7 257.9L420.5 257.9" stroke="#000" stroke-width="0.8" fill="none"/>
<text x="417.2" y="323.1" font-size="5.5" font-family="Liberation Sans, sans-serif" font-weight="bold" text-anchor="middle" fill="#000" transform="rotate(-90 417.2 323.1)">0</text>
<text x="417.2" y="313.7857142857143" font-size="5.5" font-family="Liberation Sans, sans-serif" font-weight="bold" text-anchor="middle" fill="#000" transform="rotate(-90 417.2 313.7857142857143)">10</text>
<text x="417.2" y="304.4714285714286" font-size="5.5" font-family="Liberation Sans, sans-serif" font-weight="bold" text-anchor="middle" fill="#000" transform="rotate(-90 417.2 304.4714285714286)">20</text>
<text x="417.2" y="295.15714285714284" font-size="5.5" font-family="Liberation Sans, sans-serif" font-weight="bold" text-anchor="middle" fill="#000" transform="rotate(-90 417.2 295.15714285714284)">30</text>
<text x="417.2" y="285.84285714285716" font-size="5.5" font-family="Liberation Sans, sans-serif" font-weight="bold" text-anchor="middle" fill="#000" transform="rotate(-90 417.2 285.84285714285716)">40</text>
<text x="417.2" y="276.5285714285714" font-size="5.5" font-family="Liberation Sans, sans-serif" font-weight="bold" text-anchor="middle" fill="#000" transform="rotate(-90 417.2 276.5285714285714)">50</text>
<text x="417.2" y="267.2142857142857" font-size="5.5" font-family="Liberation Sans, sans-serif" font-weight="bold" text-anchor="middle" fill="#000" transform="rotate(-90 417.2 267.2142857142857)">60</text>
<text x="417.2" y="257.9" font-size="5.5" font-family="Liberation Sans, sans-serif" font-weight="bold" text-anchor="middle" fill="#000" transform="rotate(-90 417.2 257.9)">70</text>
<text x="419.81" y="332.70" font-size="5.2" font-family="Liberation Sans, sans-serif" fill="#000">10<tspan dy="-2.18" font-size="4.42">0</tspan></text>
<text x="442.96" y="332.70" font-size="5.2" font-family="Liberation Sans, sans-serif" fill="#000">10<tspan dy="-2.18" font-size="4.42">1</tspan></text>
<text x="466.11" y="332.70" font-size="5.2" font-family="Liberation Sans, sans-serif" fill="#000">10<tspan dy="-2.18" font-size="4.42">2</tspan></text>
<text x="489.26" y="332.70" font-size="5.2" font-family="Liberation Sans, sans-serif" fill="#000">10<tspan dy="-2.18" font-size="4.42">3</tspan></text>
<text x="512.41" y="332.70" font-size="5.2" font-family="Liberation Sans, sans-serif" fill="#000">10<tspan dy="-2.18" font-size="4.42">4</tspan></text>
<text x="410.9" y="292.0" font-size="5.4" font-family="Liberation Sans, sans-serif" font-weight="bold" text-anchor="middle" fill="#000" transform="rotate(-90 410.9 292.0)" textLength="18.5" lengthAdjust="spacingAndGlyphs">Counts</text>
<text x="429.3" y="253.5" font-size="9.4" font-family="Liberation Sans, sans-serif" font-weight="bold" text-anchor="start" fill="#000" textLength="77" lengthAdjust="spacingAndGlyphs">U73122+ PAR2 AP</text>
<path d="M183.8 431.0 L187.7 430.0 L189.7 428.1 L192.7 421.2 L194.6 416.2 L197.6 412.3 L199.6 409.3 L201.6 408.3 L203.5 409.3 L205.5 406.4 L207.5 400.4 L209.4 393.5 L210.4 390.6 L211.4 394.5 L212.4 390.6 L214.4 397.5 L216.0 404.4 L217.4 410.3 L219.3 418.2 L222.3 424.1 L225.3 428.1 L233.2 429.1 L234.0 431.0 Z" fill="#5c5c5c" stroke="#333" stroke-width="0.5"/>
<line x1="180.10" y1="431.00" x2="180.10" y2="401.40" stroke="#000" stroke-width="1.3"/>
<path d="M180.8 429.0 L182.8 424.2 L184.8 416.2 L187.1 407.4 L189.1 401.4 L191.1 398.5 L193.7 402.4 L196.2 407.4 L198.6 412.3 L201.6 414.3 L203.5 418.2 L205.5 424.1 L207.5 428.5 L210.4 430.5 L277.0 430.6" fill="none" stroke="#000" stroke-width="1.3" stroke-linejoin="round"/>
<rect x="179.5" y="364" width="98.10000000000002" height="67" fill="none" stroke="#000" stroke-width="1.1"/>
<path d="M179.5 431.0L179.5 433.2M186.9 431.0L186.9 432.4M191.2 431.0L191.2 432.4M194.3 431.0L194.3 432.4M196.6 431.0L196.6 432.4M198.6 431.0L198.6 432.4M200.2 431.0L200.2 432.4M201.6 431.0L201.6 432.4M202.9 431.0L202.9 432.4M204.0 431.0L204.0 433.2M211.4 431.0L211.4 432.4M215.7 431.0L215.7 432.4M218.8 431.0L218.8 432.4M221.2 431.0L221.2 432.4M223.1 431.0L223.1 432.4M224.8 431.0L224.8 432.4M226.2 431.0L226.2 432.4M227.4 431.0L227.4 432.4M228.6 431.0L228.6 433.2M235.9 431.0L235.9 432.4M240.3 431.0L240.3 432.4M243.3 431.0L243.3 432.4M245.7 431.0L245.7 432.4M247.6 431.0L247.6 432.4M249.3 431.0L249.3 432.4M250.7 431.0L250.7 432.4M252.0 431.0L252.0 432.4M253.1 431.0L253.1 433.2M260.5 431.0L260.5 432.4M264.8 431.0L264.8 432.4M267.8 431.0L267.8 432.4M270.2 431.0L270.2 432.4M272.2 431.0L272.2 432.4M273.8 431.0L273.8 432.4M275.2 431.0L275.2 432.4M276.5 431.0L276.5 432.4M277.6 431.0L277.6 433.2" stroke="#000" stroke-width="0.8" fill="none"/>
<path d="M179.5 431.0L177.3 431.0M179.5 429.1L178.2 429.1M179.5 427.2L178.2 427.2M179.5 425.3L178.2 425.3M179.5 423.3L178.2 423.3M179.5 421.4L177.3 421.4M179.5 419.5L178.2 419.5M179.5 417.6L178.2 417.6M179.5 415.7L178.2 415.7M179.5 413.8L178.2 413.8M179.5 411.9L177.3 411.9M179.5 409.9L178.2 409.9M179.5 408.0L178.2 408.0M179.5 406.1L178.2 406.1M179.5 404.2L178.2 404.2M179.5 402.3L177.3 402.3M179.5 400.4L178.2 400.4M179.5 398.5L178.2 398.5M179.5 396.5L178.2 396.5M179.5 394.6L178.2 394.6M179.5 392.7L177.3 392.7M179.5 390.8L178.2 390.8M179.5 388.9L178.2 388.9M179.5 387.0L178.2 387.0M179.5 385.1L178.2 385.1M179.5 383.1L177.3 383.1M179.5 381.2L178.2 381.2M179.5 379.3L178.2 379.3M179.5 377.4L178.2 377.4M179.5 375.5L178.2 375.5M179.5 373.6L177.3 373.6M179.5 371.7L178.2 371.7M179.5 369.7L178.2 369.7M179.5 367.8L178.2 367.8M179.5 365.9L178.2 365.9M179.5 364.0L177.3 364.0" stroke="#000" stroke-width="0.8" fill="none"/>
<text x="174.0" y="431.0" font-size="5.5" font-family="Liberation Sans, sans-serif" font-weight="bold" text-anchor="middle" fill="#000" transform="rotate(-90 174.0 431.0)">0</text>
<text x="174.0" y="421.42857142857144" font-size="5.5" font-family="Liberation Sans, sans-serif" font-weight="bold" text-anchor="middle" fill="#000" transform="rotate(-90 174.0 421.42857142857144)">10</text>
<text x="174.0" y="411.85714285714283" font-size="5.5" font-family="Liberation Sans, sans-serif" font-weight="bold" text-anchor="middle" fill="#000" transform="rotate(-90 174.0 411.85714285714283)">20</text>
<text x="174.0" y="402.2857142857143" font-size="5.5" font-family="Liberation Sans, sans-serif" font-weight="bold" text-anchor="middle" fill="#000" transform="rotate(-90 174.0 402.2857142857143)">30</text>
<text x="174.0" y="392.7142857142857" font-size="5.5" font-family="Liberation Sans, sans-serif" font-weight="bold" text-anchor="middle" fill="#000" transform="rotate(-90 174.0 392.7142857142857)">40</text>
<text x="174.0" y="383.14285714285717" font-size="5.5" font-family="Liberation Sans, sans-serif" font-weight="bold" text-anchor="middle" fill="#000" transform="rotate(-90 174.0 383.14285714285717)">50</text>
<text x="174.0" y="373.57142857142856" font-size="5.5" font-family="Liberation Sans, sans-serif" font-weight="bold" text-anchor="middle" fill="#000" transform="rotate(-90 174.0 373.57142857142856)">60</text>
<text x="174.0" y="364.0" font-size="5.5" font-family="Liberation Sans, sans-serif" font-weight="bold" text-anchor="middle" fill="#000" transform="rotate(-90 174.0 364.0)">70</text>
<text x="176.61" y="440.60" font-size="5.2" font-family="Liberation Sans, sans-serif" fill="#000">10<tspan dy="-2.18" font-size="4.42">0</tspan></text>
<text x="201.13" y="440.60" font-size="5.2" font-family="Liberation Sans, sans-serif" fill="#000">10<tspan dy="-2.18" font-size="4.42">1</tspan></text>
<text x="225.66" y="440.60" font-size="5.2" font-family="Liberation Sans, sans-serif" fill="#000">10<tspan dy="-2.18" font-size="4.42">2</tspan></text>
<text x="250.18" y="440.60" font-size="5.2" font-family="Liberation Sans, sans-serif" fill="#000">10<tspan dy="-2.18" font-size="4.42">3</tspan></text>
<text x="274.71" y="440.60" font-size="5.2" font-family="Liberation Sans, sans-serif" fill="#000">10<tspan dy="-2.18" font-size="4.42">4</tspan></text>
<text x="167.7" y="399.0" font-size="5.4" font-family="Liberation Sans, sans-serif" font-weight="bold" text-anchor="middle" fill="#000" transform="rotate(-90 167.7 399.0)" textLength="18.5" lengthAdjust="spacingAndGlyphs">Counts</text>
<text x="226.1" y="358.6" font-size="9.4" font-family="Liberation Sans, sans-serif" font-weight="bold" text-anchor="start" fill="#000" textLength="17" lengthAdjust="spacingAndGlyphs">PR3</text>
<path d="M315.8 431.0 L319.8 428.1 L323.7 423.2 L326.7 420.2 L329.6 416.2 L332.6 408.3 L334.6 401.4 L336.6 396.5 L338.5 397.5 L340.5 404.4 L342.5 414.3 L344.5 422.2 L347.4 426.1 L352.4 428.1 L359.3 429.7 L365.2 429.7 L366.0 431.0 Z" fill="#5c5c5c" stroke="#333" stroke-width="0.5"/>
<line x1="312.60" y1="431.00" x2="312.60" y2="372.80" stroke="#000" stroke-width="1.3"/>
<path d="M313.4 424.2 L315.8 421.2 L317.8 415.3 L319.8 406.4 L321.7 399.5 L322.7 397.5 L324.1 401.4 L325.7 405.4 L327.7 411.3 L329.6 415.3 L332.6 421.2 L335.6 426.1 L339.5 429.7 L345.0 430.5 L407.0 430.5" fill="none" stroke="#000" stroke-width="1.3" stroke-linejoin="round"/>
<rect x="312" y="363.1" width="95.19999999999999" height="67.89999999999998" fill="none" stroke="#000" stroke-width="1.1"/>
<path d="M312.0 431.0L312.0 433.2M319.2 431.0L319.2 432.4M323.4 431.0L323.4 432.4M326.3 431.0L326.3 432.4M328.6 431.0L328.6 432.4M330.5 431.0L330.5 432.4M332.1 431.0L332.1 432.4M333.5 431.0L333.5 432.4M334.7 431.0L334.7 432.4M335.8 431.0L335.8 433.2M343.0 431.0L343.0 432.4M347.2 431.0L347.2 432.4M350.1 431.0L350.1 432.4M352.4 431.0L352.4 432.4M354.3 431.0L354.3 432.4M355.9 431.0L355.9 432.4M357.3 431.0L357.3 432.4M358.5 431.0L358.5 432.4M359.6 431.0L359.6 433.2M366.8 431.0L366.8 432.4M371.0 431.0L371.0 432.4M373.9 431.0L373.9 432.4M376.2 431.0L376.2 432.4M378.1 431.0L378.1 432.4M379.7 431.0L379.7 432.4M381.1 431.0L381.1 432.4M382.3 431.0L382.3 432.4M383.4 431.0L383.4 433.2M390.6 431.0L390.6 432.4M394.8 431.0L394.8 432.4M397.7 431.0L397.7 432.4M400.0 431.0L400.0 432.4M401.9 431.0L401.9 432.4M403.5 431.0L403.5 432.4M404.9 431.0L404.9 432.4M406.1 431.0L406.1 432.4M407.2 431.0L407.2 433.2" stroke="#000" stroke-width="0.8" fill="none"/>
<path d="M312.0 431.0L309.8 431.0M312.0 429.1L310.7 429.1M312.0 427.1L310.7 427.1M312.0 425.2L310.7 425.2M312.0 423.2L310.7 423.2M312.0 421.3L309.8 421.3M312.0 419.4L310.7 419.4M312.0 417.4L310.7 417.4M312.0 415.5L310.7 415.5M312.0 413.5L310.7 413.5M312.0 411.6L309.8 411.6M312.0 409.7L310.7 409.7M312.0 407.7L310.7 407.7M312.0 405.8L310.7 405.8M312.0 403.8L310.7 403.8M312.0 401.9L309.8 401.9M312.0 400.0L310.7 400.0M312.0 398.0L310.7 398.0M312.0 396.1L310.7 396.1M312.0 394.1L310.7 394.1M312.0 392.2L309.8 392.2M312.0 390.3L310.7 390.3M312.0 388.3L310.7 388.3M312.0 386.4L310.7 386.4M312.0 384.4L310.7 384.4M312.0 382.5L309.8 382.5M312.0 380.6L310.7 380.6M312.0 378.6L310.7 378.6M312.0 376.7L310.7 376.7M312.0 374.7L310.7 374.7M312.0 372.8L309.8 372.8M312.0 370.9L310.7 370.9M312.0 368.9L310.7 368.9M312.0 367.0L310.7 367.0M312.0 365.0L310.7 365.0M312.0 363.1L309.8 363.1" stroke="#000" stroke-width="0.8" fill="none"/>
<text x="306.5" y="431.0" font-size="5.5" font-family="Liberation Sans, sans-serif" font-weight="bold" text-anchor="middle" fill="#000" transform="rotate(-90 306.5 431.0)">0</text>
<text x="306.5" y="421.3" font-size="5.5" font-family="Liberation Sans, sans-serif" font-weight="bold" text-anchor="middle" fill="#000" transform="rotate(-90 306.5 421.3)">10</text>
<text x="306.5" y="411.6" font-size="5.5" font-family="Liberation Sans, sans-serif" font-weight="bold" text-anchor="middle" fill="#000" transform="rotate(-90 306.5 411.6)">20</text>
<text x="306.5" y="401.90000000000003" font-size="5.5" font-family="Liberation Sans, sans-serif" font-weight="bold" text-anchor="middle" fill="#000" transform="rotate(-90 306.5 401.90000000000003)">30</text>
<text x="306.5" y="392.2" font-size="5.5" font-family="Liberation Sans, sans-serif" font-weight="bold" text-anchor="middle" fill="#000" transform="rotate(-90 306.5 392.2)">40</text>
<text x="306.5" y="382.5" font-size="5.5" font-family="Liberation Sans, sans-serif" font-weight="bold" text-anchor="middle" fill="#000" transform="rotate(-90 306.5 382.5)">50</text>
<text x="306.5" y="372.8" font-size="5.5" font-family="Liberation Sans, sans-serif" font-weight="bold" text-anchor="middle" fill="#000" transform="rotate(-90 306.5 372.8)">60</text>
<text x="306.5" y="363.1" font-size="5.5" font-family="Liberation Sans, sans-serif" font-weight="bold" text-anchor="middle" fill="#000" transform="rotate(-90 306.5 363.1)">70</text>
<text x="309.11" y="440.60" font-size="5.2" font-family="Liberation Sans, sans-serif" fill="#000">10<tspan dy="-2.18" font-size="4.42">0</tspan></text>
<text x="332.91" y="440.60" font-size="5.2" font-family="Liberation Sans, sans-serif" fill="#000">10<tspan dy="-2.18" font-size="4.42">1</tspan></text>
<text x="356.71" y="440.60" font-size="5.2" font-family="Liberation Sans, sans-serif" fill="#000">10<tspan dy="-2.18" font-size="4.42">2</tspan></text>
<text x="380.51" y="440.60" font-size="5.2" font-family="Liberation Sans, sans-serif" fill="#000">10<tspan dy="-2.18" font-size="4.42">3</tspan></text>
<text x="404.31" y="440.60" font-size="5.2" font-family="Liberation Sans, sans-serif" fill="#000">10<tspan dy="-2.18" font-size="4.42">4</tspan></text>
<text x="300.2" y="398.55" font-size="5.4" font-family="Liberation Sans, sans-serif" font-weight="bold" text-anchor="middle" fill="#000" transform="rotate(-90 300.2 398.55)" textLength="18.5" lengthAdjust="spacingAndGlyphs">Counts</text>
<text x="341" y="359.8" font-size="9.4" font-family="Liberation Sans, sans-serif" font-weight="bold" text-anchor="start" fill="#000" textLength="52.2" lengthAdjust="spacingAndGlyphs">U73343+PR3</text>
<path d="M424.8 428.0 L426.7 425.2 L428.7 420.2 L430.7 413.3 L432.7 404.4 L434.6 397.5 L436.2 393.5 L437.6 396.5 L439.6 402.4 L441.6 407.4 L444.5 413.3 L447.5 418.2 L450.5 422.2 L453.4 426.1 L457.4 427.1 L458.0 428.0 Z" fill="#5c5c5c" stroke="#333" stroke-width="0.5"/>
<line x1="419.10" y1="428.00" x2="419.10" y2="405.40" stroke="#000" stroke-width="1.3"/>
<path d="M419.8 425.2 L421.8 424.2 L423.8 418.2 L425.7 409.3 L427.7 399.5 L429.7 391.6 L431.7 392.5 L433.7 395.5 L435.6 401.4 L437.6 408.3 L439.6 415.3 L441.6 421.2 L444.5 425.2 L450.5 427.1 L513.0 427.5" fill="none" stroke="#000" stroke-width="1.3" stroke-linejoin="round"/>
<rect x="418.5" y="362" width="94.70000000000005" height="66" fill="none" stroke="#000" stroke-width="1.1"/>
<path d="M418.5 428.0L418.5 430.2M425.6 428.0L425.6 429.4M429.8 428.0L429.8 429.4M432.8 428.0L432.8 429.4M435.0 428.0L435.0 429.4M436.9 428.0L436.9 429.4M438.5 428.0L438.5 429.4M439.9 428.0L439.9 429.4M441.1 428.0L441.1 429.4M442.2 428.0L442.2 430.2M449.3 428.0L449.3 429.4M453.5 428.0L453.5 429.4M456.4 428.0L456.4 429.4M458.7 428.0L458.7 429.4M460.6 428.0L460.6 429.4M462.2 428.0L462.2 429.4M463.6 428.0L463.6 429.4M464.8 428.0L464.8 429.4M465.9 428.0L465.9 430.2M473.0 428.0L473.0 429.4M477.1 428.0L477.1 429.4M480.1 428.0L480.1 429.4M482.4 428.0L482.4 429.4M484.3 428.0L484.3 429.4M485.9 428.0L485.9 429.4M487.2 428.0L487.2 429.4M488.4 428.0L488.4 429.4M489.5 428.0L489.5 430.2M496.7 428.0L496.7 429.4M500.8 428.0L500.8 429.4M503.8 428.0L503.8 429.4M506.1 428.0L506.1 429.4M507.9 428.0L507.9 429.4M509.5 428.0L509.5 429.4M510.9 428.0L510.9 429.4M512.1 428.0L512.1 429.4M513.2 428.0L513.2 430.2" stroke="#000" stroke-width="0.8" fill="none"/>
<path d="M418.5 428.0L416.3 428.0M418.5 426.1L417.2 426.1M418.5 424.2L417.2 424.2M418.5 422.3L417.2 422.3M418.5 420.5L417.2 420.5M418.5 418.6L416.3 418.6M418.5 416.7L417.2 416.7M418.5 414.8L417.2 414.8M418.5 412.9L417.2 412.9M418.5 411.0L417.2 411.0M418.5 409.1L416.3 409.1M418.5 407.3L417.2 407.3M418.5 405.4L417.2 405.4M418.5 403.5L417.2 403.5M418.5 401.6L417.2 401.6M418.5 399.7L416.3 399.7M418.5 397.8L417.2 397.8M418.5 395.9L417.2 395.9M418.5 394.1L417.2 394.1M418.5 392.2L417.2 392.2M418.5 390.3L416.3 390.3M418.5 388.4L417.2 388.4M418.5 386.5L417.2 386.5M418.5 384.6L417.2 384.6M418.5 382.7L417.2 382.7M418.5 380.9L416.3 380.9M418.5 379.0L417.2 379.0M418.5 377.1L417.2 377.1M418.5 375.2L417.2 375.2M418.5 373.3L417.2 373.3M418.5 371.4L416.3 371.4M418.5 369.5L417.2 369.5M418.5 367.7L417.2 367.7M418.5 365.8L417.2 365.8M418.5 363.9L417.2 363.9M418.5 362.0L416.3 362.0" stroke="#000" stroke-width="0.8" fill="none"/>
<text x="413.0" y="428.0" font-size="5.5" font-family="Liberation Sans, sans-serif" font-weight="bold" text-anchor="middle" fill="#000" transform="rotate(-90 413.0 428.0)">0</text>
<text x="413.0" y="418.57142857142856" font-size="5.5" font-family="Liberation Sans, sans-serif" font-weight="bold" text-anchor="middle" fill="#000" transform="rotate(-90 413.0 418.57142857142856)">10</text>
<text x="413.0" y="409.14285714285717" font-size="5.5" font-family="Liberation Sans, sans-serif" font-weight="bold" text-anchor="middle" fill="#000" transform="rotate(-90 413.0 409.14285714285717)">20</text>
<text x="413.0" y="399.7142857142857" font-size="5.5" font-family="Liberation Sans, sans-serif" font-weight="bold" text-anchor="middle" fill="#000" transform="rotate(-90 413.0 399.7142857142857)">30</text>
<text x="413.0" y="390.2857142857143" font-size="5.5" font-family="Liberation Sans, sans-serif" font-weight="bold" text-anchor="middle" fill="#000" transform="rotate(-90 413.0 390.2857142857143)">40</text>
<text x="413.0" y="380.85714285714283" font-size="5.5" font-family="Liberation Sans, sans-serif" font-weight="bold" text-anchor="middle" fill="#000" transform="rotate(-90 413.0 380.85714285714283)">50</text>
<text x="413.0" y="371.42857142857144" font-size="5.5" font-family="Liberation Sans, sans-serif" font-weight="bold" text-anchor="middle" fill="#000" transform="rotate(-90 413.0 371.42857142857144)">60</text>
<text x="413.0" y="362.0" font-size="5.5" font-family="Liberation Sans, sans-serif" font-weight="bold" text-anchor="middle" fill="#000" transform="rotate(-90 413.0 362.0)">70</text>
<text x="415.61" y="437.60" font-size="5.2" font-family="Liberation Sans, sans-serif" fill="#000">10<tspan dy="-2.18" font-size="4.42">0</tspan></text>
<text x="439.28" y="437.60" font-size="5.2" font-family="Liberation Sans, sans-serif" fill="#000">10<tspan dy="-2.18" font-size="4.42">1</tspan></text>
<text x="462.96" y="437.60" font-size="5.2" font-family="Liberation Sans, sans-serif" fill="#000">10<tspan dy="-2.18" font-size="4.42">2</tspan></text>
<text x="486.63" y="437.60" font-size="5.2" font-family="Liberation Sans, sans-serif" fill="#000">10<tspan dy="-2.18" font-size="4.42">3</tspan></text>
<text x="510.31" y="437.60" font-size="5.2" font-family="Liberation Sans, sans-serif" fill="#000">10<tspan dy="-2.18" font-size="4.42">4</tspan></text>
<text x="406.7" y="396.5" font-size="5.4" font-family="Liberation Sans, sans-serif" font-weight="bold" text-anchor="middle" fill="#000" transform="rotate(-90 406.7 396.5)" textLength="18.5" lengthAdjust="spacingAndGlyphs">Counts</text>
<text x="436.9" y="359.6" font-size="9.4" font-family="Liberation Sans, sans-serif" font-weight="bold" text-anchor="start" fill="#000" textLength="57.2" lengthAdjust="spacingAndGlyphs">U73122+ PR3</text>
<line x1="190.00" y1="342.20" x2="328.40" y2="342.20" stroke="#000" stroke-width="1.1"/>
<text x="344.6" y="348.5" font-size="8.6" font-family="Liberation Sans, sans-serif" font-weight="bold" text-anchor="start" fill="#000" textLength="22.3" lengthAdjust="spacingAndGlyphs">CD83</text>
<line x1="382.30" y1="342.20" x2="499.00" y2="342.20" stroke="#000" stroke-width="1.1"/>
<path d="M505.3 342.2L498.7 339.2L498.7 345.2Z" fill="#000"/>
<line x1="184.20" y1="449.60" x2="328.30" y2="449.60" stroke="#000" stroke-width="1.1"/>
<text x="350" y="454.2" font-size="9.2" font-family="Liberation Sans, sans-serif" font-weight="bold" text-anchor="start" fill="#000" textLength="21.6" lengthAdjust="spacingAndGlyphs">CD83</text>
<line x1="388.10" y1="449.60" x2="504.00" y2="449.60" stroke="#000" stroke-width="1.1"/>
<path d="M510 449.6L503.4 446.6L503.4 452.6Z" fill="#000"/>
</svg></body></html>
